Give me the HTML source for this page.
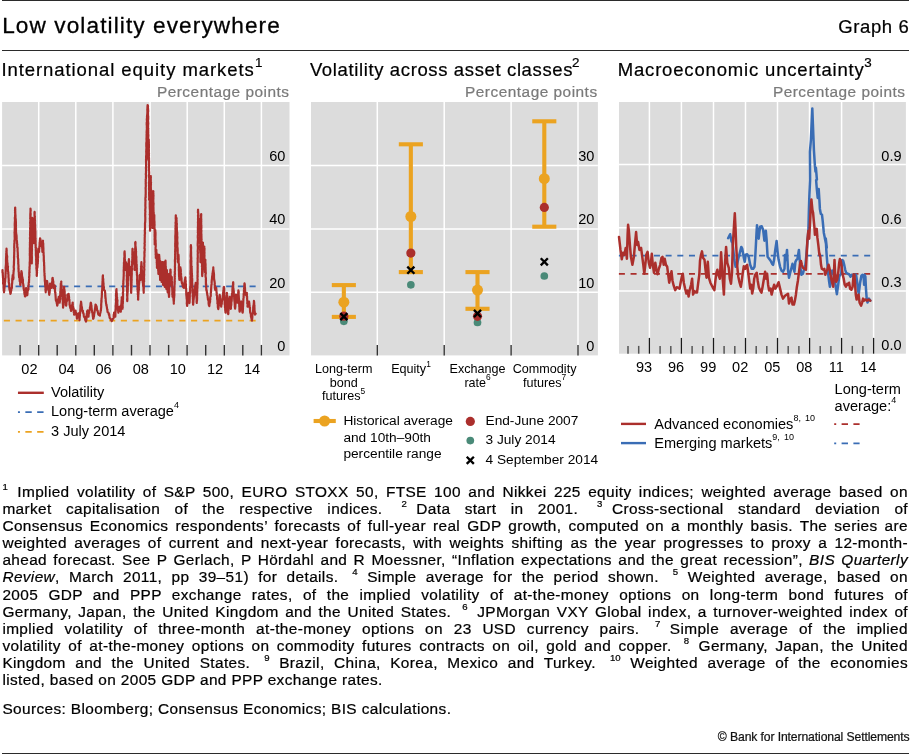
<!DOCTYPE html>
<html lang="en"><head><meta charset="utf-8"><title>Low volatility everywhere</title>
<style>
html,body{margin:0;padding:0;background:#fff}
body{width:910px;height:754px;position:relative;overflow:hidden;font-family:"Liberation Sans",sans-serif;color:#000}
.rule{position:absolute;left:2px;width:906.7px;height:1.3px;background:#2b2b2b}
.t{position:absolute;white-space:nowrap;-webkit-text-stroke:0.22px currentColor}
.f{position:absolute;left:2.4px;width:905.6px;font-size:15.4px;line-height:18px;white-space:nowrap;word-spacing:0;-webkit-text-stroke:0.22px #000}
.f .fs{font-size:9.6px;position:relative;top:-6.4px;letter-spacing:0}
.g4{display:inline-block;width:4.6px}
.g9{display:inline-block;width:9.6px}
svg{position:absolute;left:0;top:0}
svg text{font-family:"Liberation Sans",sans-serif}
#w{position:absolute;left:0;top:0;width:910px;height:754px}
#tx{position:absolute;left:0;top:0;width:910px;height:754px;filter:grayscale(1)}
</style></head><body><div id="w">
<div class="rule" style="top:-0.2px"></div>
<div class="rule" style="top:50.1px"></div>
<div class="rule" style="top:752.8px"></div>
<svg width="910" height="754" viewBox="0 0 910 754">
<rect x="2.1" y="102.0" width="287.4" height="253.4" fill="#dcdcdc"/>
<rect x="311.0" y="102.0" width="286.9" height="253.4" fill="#dcdcdc"/>
<rect x="619.0" y="102.0" width="286.9" height="251.7" fill="#dcdcdc"/>
<line x1="2.1" x2="289.5" y1="165.6" y2="165.6" stroke="#fff" stroke-width="1.5"/>
<line x1="2.1" x2="289.5" y1="228.9" y2="228.9" stroke="#fff" stroke-width="1.5"/>
<line x1="2.1" x2="289.5" y1="292.3" y2="292.3" stroke="#fff" stroke-width="1.5"/>
<line x1="311.0" x2="597.9" y1="165.6" y2="165.6" stroke="#fff" stroke-width="1.5"/>
<line x1="311.0" x2="597.9" y1="228.9" y2="228.9" stroke="#fff" stroke-width="1.5"/>
<line x1="311.0" x2="597.9" y1="292.3" y2="292.3" stroke="#fff" stroke-width="1.5"/>
<line x1="619.0" x2="905.9" y1="164.6" y2="164.6" stroke="#fff" stroke-width="1.5"/>
<line x1="619.0" x2="905.9" y1="227.8" y2="227.8" stroke="#fff" stroke-width="1.5"/>
<line x1="619.0" x2="905.9" y1="291.1" y2="291.1" stroke="#fff" stroke-width="1.5"/>
<line x1="38.7" x2="38.7" y1="102.0" y2="355.45" stroke="#fff" stroke-width="1.5"/>
<line x1="75.8" x2="75.8" y1="102.0" y2="355.45" stroke="#fff" stroke-width="1.5"/>
<line x1="112.9" x2="112.9" y1="102.0" y2="355.45" stroke="#fff" stroke-width="1.5"/>
<line x1="150.1" x2="150.1" y1="102.0" y2="355.45" stroke="#fff" stroke-width="1.5"/>
<line x1="187.2" x2="187.2" y1="102.0" y2="355.45" stroke="#fff" stroke-width="1.5"/>
<line x1="224.3" x2="224.3" y1="102.0" y2="355.45" stroke="#fff" stroke-width="1.5"/>
<line x1="261.4" x2="261.4" y1="102.0" y2="355.45" stroke="#fff" stroke-width="1.5"/>
<line x1="377.3" x2="377.3" y1="102.0" y2="355.45" stroke="#fff" stroke-width="1.5"/>
<line x1="444.2" x2="444.2" y1="102.0" y2="355.45" stroke="#fff" stroke-width="1.5"/>
<line x1="511.1" x2="511.1" y1="102.0" y2="355.45" stroke="#fff" stroke-width="1.5"/>
<line x1="578.0" x2="578.0" y1="102.0" y2="355.45" stroke="#fff" stroke-width="1.5"/>
<line x1="649.4" x2="649.4" y1="102.0" y2="353.7" stroke="#fff" stroke-width="1.5"/>
<line x1="681.4" x2="681.4" y1="102.0" y2="353.7" stroke="#fff" stroke-width="1.5"/>
<line x1="713.5" x2="713.5" y1="102.0" y2="353.7" stroke="#fff" stroke-width="1.5"/>
<line x1="745.5" x2="745.5" y1="102.0" y2="353.7" stroke="#fff" stroke-width="1.5"/>
<line x1="777.5" x2="777.5" y1="102.0" y2="353.7" stroke="#fff" stroke-width="1.5"/>
<line x1="809.5" x2="809.5" y1="102.0" y2="353.7" stroke="#fff" stroke-width="1.5"/>
<line x1="841.6" x2="841.6" y1="102.0" y2="353.7" stroke="#fff" stroke-width="1.5"/>
<line x1="873.6" x2="873.6" y1="102.0" y2="353.7" stroke="#fff" stroke-width="1.5"/>
<line x1="20.1" x2="20.1" y1="344.95" y2="355.45" stroke="#333" stroke-width="1.4"/>
<line x1="38.7" x2="38.7" y1="344.95" y2="355.45" stroke="#333" stroke-width="1.4"/>
<line x1="57.2" x2="57.2" y1="344.95" y2="355.45" stroke="#333" stroke-width="1.4"/>
<line x1="75.8" x2="75.8" y1="344.95" y2="355.45" stroke="#333" stroke-width="1.4"/>
<line x1="94.3" x2="94.3" y1="344.95" y2="355.45" stroke="#333" stroke-width="1.4"/>
<line x1="112.9" x2="112.9" y1="344.95" y2="355.45" stroke="#333" stroke-width="1.4"/>
<line x1="131.5" x2="131.5" y1="344.95" y2="355.45" stroke="#333" stroke-width="1.4"/>
<line x1="150.0" x2="150.0" y1="344.95" y2="355.45" stroke="#333" stroke-width="1.4"/>
<line x1="168.6" x2="168.6" y1="344.95" y2="355.45" stroke="#333" stroke-width="1.4"/>
<line x1="187.1" x2="187.1" y1="344.95" y2="355.45" stroke="#333" stroke-width="1.4"/>
<line x1="205.7" x2="205.7" y1="344.95" y2="355.45" stroke="#333" stroke-width="1.4"/>
<line x1="224.3" x2="224.3" y1="344.95" y2="355.45" stroke="#333" stroke-width="1.4"/>
<line x1="242.8" x2="242.8" y1="344.95" y2="355.45" stroke="#333" stroke-width="1.4"/>
<line x1="261.4" x2="261.4" y1="344.95" y2="355.45" stroke="#333" stroke-width="1.4"/>
<line x1="377.3" x2="377.3" y1="344.95" y2="355.45" stroke="#333" stroke-width="1.4"/>
<line x1="444.2" x2="444.2" y1="344.95" y2="355.45" stroke="#333" stroke-width="1.4"/>
<line x1="511.1" x2="511.1" y1="344.95" y2="355.45" stroke="#333" stroke-width="1.4"/>
<line x1="578.0" x2="578.0" y1="344.95" y2="355.45" stroke="#333" stroke-width="1.4"/>
<line x1="628.0" x2="628.0" y1="345.9" y2="353.7" stroke="#555" stroke-width="1.5"/>
<line x1="638.7" x2="638.7" y1="345.9" y2="353.7" stroke="#555" stroke-width="1.5"/>
<line x1="649.4" x2="649.4" y1="337.9" y2="353.7" stroke="#1a1a1a" stroke-width="1.3"/>
<line x1="660.1" x2="660.1" y1="345.9" y2="353.7" stroke="#555" stroke-width="1.5"/>
<line x1="670.8" x2="670.8" y1="345.9" y2="353.7" stroke="#555" stroke-width="1.5"/>
<line x1="681.4" x2="681.4" y1="337.9" y2="353.7" stroke="#1a1a1a" stroke-width="1.3"/>
<line x1="692.1" x2="692.1" y1="345.9" y2="353.7" stroke="#555" stroke-width="1.5"/>
<line x1="702.8" x2="702.8" y1="345.9" y2="353.7" stroke="#555" stroke-width="1.5"/>
<line x1="713.5" x2="713.5" y1="337.9" y2="353.7" stroke="#1a1a1a" stroke-width="1.3"/>
<line x1="724.1" x2="724.1" y1="345.9" y2="353.7" stroke="#555" stroke-width="1.5"/>
<line x1="734.8" x2="734.8" y1="345.9" y2="353.7" stroke="#555" stroke-width="1.5"/>
<line x1="745.5" x2="745.5" y1="337.9" y2="353.7" stroke="#1a1a1a" stroke-width="1.3"/>
<line x1="756.2" x2="756.2" y1="345.9" y2="353.7" stroke="#555" stroke-width="1.5"/>
<line x1="766.8" x2="766.8" y1="345.9" y2="353.7" stroke="#555" stroke-width="1.5"/>
<line x1="777.5" x2="777.5" y1="337.9" y2="353.7" stroke="#1a1a1a" stroke-width="1.3"/>
<line x1="788.2" x2="788.2" y1="345.9" y2="353.7" stroke="#555" stroke-width="1.5"/>
<line x1="798.9" x2="798.9" y1="345.9" y2="353.7" stroke="#555" stroke-width="1.5"/>
<line x1="809.6" x2="809.6" y1="337.9" y2="353.7" stroke="#1a1a1a" stroke-width="1.3"/>
<line x1="820.2" x2="820.2" y1="345.9" y2="353.7" stroke="#555" stroke-width="1.5"/>
<line x1="830.9" x2="830.9" y1="345.9" y2="353.7" stroke="#555" stroke-width="1.5"/>
<line x1="841.6" x2="841.6" y1="337.9" y2="353.7" stroke="#1a1a1a" stroke-width="1.3"/>
<line x1="852.3" x2="852.3" y1="345.9" y2="353.7" stroke="#555" stroke-width="1.5"/>
<line x1="862.9" x2="862.9" y1="345.9" y2="353.7" stroke="#555" stroke-width="1.5"/>
<line x1="873.6" x2="873.6" y1="337.9" y2="353.7" stroke="#1a1a1a" stroke-width="1.3"/>
<line x1="2.1" x2="255.8" y1="286.4" y2="286.4" stroke="#3a6db5" stroke-width="1.75" stroke-dasharray="6.1 5.6" stroke-dashoffset="9.95"/>
<line x1="2.1" x2="255.8" y1="320.6" y2="320.6" stroke="#eba321" stroke-width="1.75" stroke-dasharray="6.1 5.6" stroke-dashoffset="9.95"/>
<polyline points="2.5,270.0 2.5,270.5 2.5,272.4 2.7,273.1 2.8,272.7 2.8,273.7 2.8,274.8 3.0,276.8 2.9,276.9 3.2,279.4 3.1,280.2 3.2,281.0 3.1,283.4 3.3,284.1 3.3,283.1 3.6,284.6 3.6,285.2 3.6,287.6 3.6,288.3 3.7,287.9 3.8,290.8 4.0,290.7 4.0,292.3 4.0,291.1 4.3,291.1 4.3,288.4 4.5,288.2 4.4,287.8 4.5,287.5 4.8,284.8 4.8,284.0 4.9,282.0 5.0,280.7 5.1,281.8 5.1,281.1 5.2,279.6 5.3,278.2 5.5,278.0 5.5,275.9 5.5,275.0 5.6,272.7 5.7,273.4 5.6,272.9 5.7,270.7 5.7,268.6 5.6,268.0 5.8,266.7 5.7,265.9 6.0,265.7 5.9,263.8 6.0,264.1 6.1,263.9 6.0,262.0 6.0,260.3 6.2,259.5 6.0,260.3 6.1,257.0 6.2,256.1 6.2,256.1 6.2,253.4 6.3,253.4 6.4,254.1 6.4,251.8 6.3,251.3 6.5,250.9 6.5,248.7 6.7,250.8 6.6,250.4 6.7,250.6 6.6,251.5 6.7,253.0 6.7,254.4 6.8,254.4 7.0,255.8 7.2,256.6 7.0,259.3 7.2,260.0 7.2,260.3 7.2,261.6 7.6,264.0 7.5,263.9 7.5,263.8 7.6,265.5 7.7,268.0 8.0,266.6 7.8,269.1 8.0,270.0 7.9,271.1 8.3,272.1 8.3,274.1 8.2,273.3 8.4,274.0 8.5,276.1 8.4,276.5 8.7,278.9 8.7,280.0 8.8,280.9 8.8,280.2 8.7,281.6 8.9,283.0 8.9,282.6 9.2,284.3 9.2,287.3 9.4,288.3 9.4,289.3 9.4,288.2 9.6,290.0 9.8,290.4 10.3,292.9 10.4,293.8 10.7,293.4 11.0,291.0 11.3,290.4 11.5,287.7 11.7,287.8 11.9,287.9 11.9,286.4 12.0,283.7 12.1,283.0 12.1,283.8 12.3,281.1 12.2,281.0 12.3,278.2 12.5,279.4 12.6,276.1 12.7,277.5 12.7,275.0 12.9,275.6 12.9,275.9 13.2,279.4 13.3,279.0 13.5,278.1 13.5,276.8 13.3,276.9 13.4,274.3 13.5,273.2 13.5,272.3 13.7,270.9 13.6,270.6 13.8,270.2 13.9,268.8 13.8,268.0 13.7,267.1 13.8,265.8 13.9,265.0 14.0,262.6 13.9,262.0 14.0,262.7 14.0,260.5 14.1,260.2 14.1,257.9 14.0,257.3 14.1,257.8 14.2,256.2 14.1,256.2 14.2,254.3 14.2,253.0 14.2,251.9 14.4,250.9 14.4,250.6 14.2,250.3 14.4,248.2 14.2,248.0 14.3,244.9 14.3,243.8 14.5,242.8 14.5,243.8 14.5,241.0 14.4,241.5 14.5,240.0 14.7,240.1 14.7,237.2 14.6,236.7 14.7,237.4 14.6,234.0 14.6,234.0 14.6,232.1 14.5,232.6 14.7,231.1 14.7,228.6 14.7,229.3 14.9,226.7 14.9,227.8 14.7,224.8 14.9,223.6 14.7,223.3 15.0,222.7 14.8,222.9 15.0,219.9 15.0,220.1 14.8,217.7 15.0,218.5 15.1,215.7 15.1,216.3 15.2,213.7 15.2,212.7 15.0,212.8 15.2,212.1 15.0,210.2 15.1,210.0 15.1,207.8 15.2,207.9 15.2,207.6 15.2,209.4 15.3,211.7 15.3,211.9 15.3,212.5 15.3,213.2 15.5,215.6 15.5,215.1 15.5,218.2 15.6,218.9 15.8,219.0 15.7,219.7 15.9,221.5 15.8,222.0 15.9,222.5 15.9,224.6 15.8,224.7 15.8,224.7 16.0,225.8 15.8,227.3 16.0,227.8 16.0,231.1 15.9,230.4 16.0,231.4 16.0,232.0 16.2,233.3 16.1,236.4 16.2,235.3 16.0,236.4 16.1,238.0 16.2,235.6 16.3,235.9 16.4,235.0 16.5,235.1 16.5,235.6 16.6,236.8 16.6,237.7 16.7,239.4 16.9,241.0 17.0,242.2 17.1,243.7 17.3,244.6 17.2,244.7 17.2,247.4 17.4,247.0 17.5,248.7 17.6,247.7 17.6,251.1 17.7,251.7 17.6,251.0 17.8,253.0 17.8,254.9 17.9,255.2 17.9,256.5 17.7,256.2 17.9,258.0 17.9,258.0 18.2,259.1 18.2,261.5 18.3,262.8 18.2,263.5 18.4,264.6 18.5,266.5 18.5,266.7 18.4,268.2 18.5,269.4 18.6,268.6 18.6,271.5 18.9,272.6 18.8,272.9 18.9,273.9 18.9,275.0 19.1,276.8 19.1,277.4 19.4,277.0 19.6,279.0 19.7,280.7 19.7,281.2 19.9,280.7 20.2,283.5 20.2,284.5 20.4,285.0 20.5,284.0 20.4,282.9 20.5,283.1 20.8,282.4 20.7,278.6 20.9,279.9 20.8,277.9 20.9,277.0 21.1,275.2 21.1,274.2 21.2,273.0 21.1,274.3 21.3,272.9 21.4,271.0 21.6,273.1 21.8,272.2 21.6,274.0 21.9,273.6 22.0,276.0 22.1,276.9 22.3,277.0 22.6,278.5 22.7,280.0 22.9,279.6 22.9,283.0 23.2,284.2 23.3,284.0 23.3,286.2 23.5,285.6 23.6,288.4 23.7,287.6 23.7,288.3 23.9,290.0 24.2,289.9 24.4,291.5 24.3,292.4 24.5,294.2 24.9,294.9 24.9,296.3 25.1,296.4 25.3,294.6 25.3,294.4 25.2,292.7 25.5,291.0 25.7,290.7 25.9,289.7 26.1,288.0 26.1,288.4 26.3,291.2 26.5,290.9 26.7,292.0 27.0,292.4 27.0,295.4 27.3,295.0 27.4,294.5 27.5,293.2 27.6,291.0 28.0,290.2 28.0,290.0 28.1,289.0 28.5,289.2 28.4,286.9 28.5,285.1 28.8,285.0 28.7,283.5 28.8,282.2 29.1,282.2 29.0,281.7 29.1,279.8 29.1,278.6 29.1,276.7 29.1,278.4 29.3,276.0 29.4,275.0 29.3,275.1 29.3,272.3 29.4,271.7 29.6,272.3 29.4,271.1 29.6,267.6 29.6,269.1 29.5,267.3 29.8,265.7 29.8,265.9 29.7,265.4 29.7,261.9 29.8,262.0 29.9,261.1 29.9,261.3 29.9,259.4 29.9,257.9 29.9,255.7 30.0,255.2 29.8,255.4 29.8,252.9 30.0,253.4 29.8,250.9 29.9,251.1 29.9,249.7 29.8,249.3 29.9,247.4 30.0,248.3 30.0,247.1 29.9,244.2 30.1,245.3 29.9,242.4 30.1,242.0 30.0,240.8 30.2,240.5 29.9,238.2 30.0,237.5 30.0,237.5 30.2,236.9 30.1,235.0 30.0,234.0 30.1,234.4 30.1,232.9 30.2,230.2 30.3,229.4 30.1,229.0 30.2,227.2 30.4,227.4 30.2,224.9 30.4,224.1 30.1,222.9 30.3,221.7 30.4,223.1 30.5,221.6 30.3,221.2 30.5,218.0 30.2,218.6 30.3,217.4 30.3,215.6 30.3,214.0 30.4,213.3 30.3,214.2 30.4,213.3 30.6,210.5 30.5,210.8 30.5,208.9 30.5,208.6 30.7,210.5 30.5,211.0 30.4,214.1 30.7,213.7 30.5,215.7 30.5,214.6 30.6,218.1 30.8,218.6 30.7,218.5 30.8,221.3 30.8,220.2 30.7,221.4 30.9,221.5 30.9,225.2 30.7,226.2 30.9,225.2 31.0,228.3 30.9,227.6 30.9,228.8 30.9,231.2 31.1,231.8 31.1,232.9 31.0,233.3 31.0,233.5 31.0,235.8 31.2,235.1 31.0,236.3 31.2,236.6 31.3,238.5 31.2,240.0 31.4,242.1 31.1,241.3 31.3,241.8 31.3,244.6 31.3,244.2 31.4,246.3 31.5,247.7 31.3,248.5 31.4,250.0 31.4,250.2 31.4,251.7 31.4,251.3 31.7,252.0 31.5,254.2 31.7,254.7 31.5,256.0 31.7,257.9 31.6,259.4 31.8,258.9 31.8,261.0 31.7,259.7 31.7,260.9 31.8,263.0 31.8,263.4 31.8,262.2 31.8,261.1 31.9,258.3 31.7,259.3 31.9,257.3 31.8,255.2 31.8,253.9 31.9,253.3 31.8,253.4 31.9,250.6 31.8,251.5 31.9,249.4 32.0,249.8 31.8,246.7 32.0,246.7 31.9,246.4 32.1,244.0 31.9,243.7 32.2,242.4 32.1,241.4 32.0,240.5 32.2,241.0 32.0,238.6 32.0,238.6 32.2,235.5 32.2,235.7 32.2,234.7 32.0,233.8 32.1,231.5 32.3,232.3 32.2,229.7 32.2,229.6 32.1,227.9 32.3,228.0 32.2,225.8 32.4,226.8 32.1,224.0 32.4,225.2 32.1,222.9 32.2,223.1 32.3,222.1 32.2,220.8 32.2,219.7 32.3,217.9 32.5,218.6 32.4,220.9 32.5,220.1 32.6,222.0 32.7,221.9 32.9,224.6 32.9,223.7 33.0,226.0 32.9,227.7 33.0,229.0 33.2,229.3 33.1,230.4 33.3,230.8 33.3,231.8 33.3,232.8 33.4,232.6 33.3,235.0 33.6,236.8 33.4,236.9 33.4,237.9 33.6,237.9 33.6,238.8 33.6,241.0 33.6,242.4 33.8,243.0 33.9,242.7 33.7,241.0 33.8,240.0 33.8,240.3 34.1,239.0 34.0,237.7 34.1,235.1 34.1,235.0 33.9,235.2 34.2,233.8 34.0,230.7 34.0,231.7 34.1,231.1 34.1,229.9 34.3,228.0 34.1,226.1 34.2,226.0 34.2,223.6 34.4,223.0 34.4,223.5 34.4,221.0 34.4,219.8 34.4,220.3 34.4,220.0 34.6,218.2 34.6,215.8 34.5,216.3 34.5,215.8 34.6,215.3 34.7,212.5 34.6,211.9 34.5,212.7 34.5,214.6 34.6,215.8 34.9,216.3 34.8,217.2 34.7,217.4 34.8,217.6 34.9,220.3 35.1,221.0 34.9,220.9 34.9,223.4 35.0,222.5 35.0,223.8 35.2,225.2 35.1,227.3 35.2,228.0 35.2,229.4 35.4,228.9 35.2,230.3 35.4,230.8 35.4,234.1 35.3,233.7 35.4,233.6 35.4,236.2 35.4,237.4 35.5,239.3 35.6,238.3 35.5,238.7 35.5,240.7 35.7,240.7 35.6,241.6 35.5,245.3 35.7,244.1 35.7,246.0 35.6,247.9 35.7,247.4 35.9,247.7 35.8,250.0 35.9,251.8 36.0,250.6 35.9,253.7 35.9,254.7 35.9,254.2 35.9,255.2 36.1,256.5 36.2,258.5 36.1,259.6 36.2,260.1 36.2,261.8 36.3,261.3 36.2,264.3 36.2,265.0 36.3,264.2 36.5,266.6 36.4,267.6 36.4,269.0 36.7,268.2 36.6,270.3 36.8,271.4 36.7,271.8 36.8,273.5 36.8,273.7 36.7,275.1 36.8,275.9 36.9,273.9 37.1,272.4 36.9,271.5 37.2,270.2 37.0,269.8 37.1,267.8 37.3,268.0 37.4,267.6 37.5,266.6 37.6,263.7 37.7,263.6 37.8,263.9 37.8,262.0 37.9,259.7 38.0,261.2 37.8,257.8 37.8,256.8 38.1,257.9 38.1,256.3 38.0,255.2 38.0,252.7 38.1,253.5 38.2,251.2 38.2,249.4 38.3,249.1 38.3,248.7 38.5,249.4 38.8,252.2 39.0,252.0 39.1,252.0 39.1,248.5 39.3,248.7 39.4,247.3 39.3,246.8 39.4,246.7 39.5,245.6 39.6,242.1 39.9,243.3 39.8,240.0 40.0,240.4 40.0,238.4 40.1,238.3 40.3,239.0 40.5,239.8 40.4,241.0 40.6,243.3 40.7,242.7 40.9,243.7 40.9,246.0 41.2,245.5 41.3,244.2 41.5,242.5 41.8,241.7 41.7,243.9 41.8,244.9 41.9,243.9 42.0,247.0 42.2,246.5 42.1,247.1 42.3,249.0 42.3,250.7 42.3,250.5 42.4,252.0 42.6,250.0 42.6,250.4 42.5,248.0 42.6,248.7 42.7,245.8 42.6,247.0 42.7,243.9 42.9,244.4 42.8,241.8 42.9,241.0 43.0,240.7 42.9,241.8 43.0,242.3 43.2,245.2 43.3,243.7 43.2,244.7 43.4,248.3 43.3,248.6 43.4,248.1 43.4,250.0 43.4,249.9 43.4,251.7 43.6,252.7 43.6,254.6 43.6,255.4 43.7,255.0 43.8,256.7 43.8,258.0 43.8,260.2 44.0,260.2 43.8,260.8 44.1,262.6 44.1,263.8 44.1,265.0 44.1,265.4 44.2,265.5 44.2,265.8 44.3,268.8 44.2,269.4 44.3,270.0 44.3,270.8 44.4,272.4 44.6,273.5 44.5,273.1 44.5,275.8 44.7,276.0 44.7,275.7 44.7,278.0 44.8,278.0 44.8,281.3 44.9,279.8 45.0,282.1 45.1,283.0 45.1,285.0 45.3,284.7 45.2,286.0 45.3,286.2 45.5,287.8 45.6,288.1 45.4,289.8 45.6,290.6 45.7,292.3 45.8,289.8 46.0,290.0 45.9,288.7 46.2,287.3 46.2,288.4 46.4,285.2 46.3,284.7 46.6,282.9 46.6,283.8 46.7,281.8 46.7,280.9 47.1,281.1 47.3,282.4 47.6,284.8 47.7,284.8 47.8,285.7 47.9,287.0 48.1,288.8 48.3,289.8 48.4,289.4 48.5,290.6 48.8,290.4 48.8,292.2 49.1,293.2 49.2,294.8 49.4,293.6 49.4,293.3 49.6,293.0 49.7,289.5 49.8,291.0 49.9,287.8 49.7,288.2 50.1,285.4 50.0,286.3 50.0,283.7 50.2,283.8 50.6,284.1 50.6,285.4 51.1,288.0 51.2,287.8 51.5,285.9 51.6,286.1 51.8,285.3 51.9,284.7 52.0,282.0 52.2,281.9 52.4,280.7 52.3,280.0 52.4,278.1 52.7,277.9 52.7,278.8 52.8,279.8 53.0,280.8 53.2,282.0 53.3,281.4 53.3,283.7 53.5,285.3 53.5,285.5 53.5,288.2 53.7,287.8 54.2,287.2 54.7,285.8 54.8,285.5 55.0,288.3 55.1,288.3 55.0,289.8 55.0,292.0 55.2,292.4 55.4,292.3 55.3,293.4 55.5,294.9 55.5,294.9 55.6,296.5 55.7,297.8 55.8,299.7 56.0,300.7 56.2,300.8 56.6,301.8 56.7,303.2 56.8,303.2 57.0,304.1 57.2,305.7 57.4,305.1 57.6,302.4 57.7,303.9 57.8,300.4 57.9,299.3 58.2,301.0 58.4,299.2 58.5,298.9 58.7,296.8 58.9,298.1 59.0,299.3 59.1,300.3 59.3,301.2 59.4,302.5 59.7,302.7 59.6,300.8 59.9,301.5 59.8,300.2 60.0,299.7 59.9,297.9 60.1,296.2 60.1,295.2 60.4,295.2 60.3,292.5 60.3,291.5 60.5,292.7 60.5,292.0 60.6,288.4 60.8,289.1 60.7,289.2 60.7,286.6 60.8,286.2 60.8,283.8 61.1,282.4 61.2,281.7 61.2,281.8 61.3,281.6 61.2,282.8 61.3,285.5 61.4,286.5 61.6,285.5 61.7,288.4 61.6,289.5 61.8,290.2 62.0,290.7 62.1,291.1 61.9,293.4 62.1,292.4 62.2,294.8 62.1,296.7 62.4,296.2 62.5,296.8 62.3,298.7 62.6,299.4 62.7,300.6 62.8,300.7 62.8,302.3 62.8,304.1 63.0,304.4 63.1,307.0 63.0,306.9 63.1,307.7 63.3,305.4 63.3,306.3 63.3,304.2 63.4,305.1 63.3,303.0 63.5,301.5 63.5,300.4 63.6,300.0 63.5,299.6 63.5,296.3 63.7,296.5 63.8,296.7 63.9,293.4 63.9,294.7 63.8,293.0 64.0,292.8 64.1,291.3 63.9,289.4 64.1,289.0 64.2,286.9 64.1,286.8 64.1,289.1 64.3,289.1 64.3,289.7 64.5,290.1 64.5,292.6 64.7,291.6 64.6,294.6 64.9,295.0 64.8,296.9 64.9,296.7 64.9,296.9 65.1,297.8 65.1,299.7 65.3,300.3 65.5,301.5 65.5,301.7 65.8,305.2 66.0,303.6 66.1,305.7 66.2,305.6 66.4,304.0 66.4,302.8 66.8,300.4 66.8,301.8 66.9,299.9 67.1,299.6 67.3,299.1 67.5,297.7 67.3,295.1 67.6,294.8 68.6,293.8 68.6,293.9 68.7,294.6 69.0,296.9 69.1,297.6 68.9,299.9 69.1,300.0 69.4,299.6 69.4,301.0 69.6,303.1 69.5,304.2 69.6,304.7 69.8,305.6 70.3,308.1 70.2,306.9 70.6,308.0 71.0,310.9 71.1,310.7 71.2,310.7 71.5,309.5 71.8,308.1 71.7,305.4 72.2,306.5 72.2,305.2 72.5,304.0 72.6,302.7 72.7,302.6 72.7,304.0 72.9,305.7 73.0,306.0 73.1,308.2 73.2,309.3 73.6,308.3 73.7,309.9 73.8,312.7 73.8,311.6 74.1,312.5 74.1,314.7 74.5,314.7 74.8,312.5 75.2,312.6 75.6,310.7 75.7,312.1 75.8,311.9 76.2,314.3 76.4,313.6 76.5,315.0 76.6,315.7 76.8,318.6 77.1,318.6 77.4,316.7 77.8,316.1 78.1,314.5 78.4,313.4 78.6,313.7 78.6,315.2 78.8,315.6 79.0,316.0 79.4,317.3 79.5,320.1 79.6,319.6 79.6,317.5 79.6,318.8 79.7,317.3 79.7,317.0 79.9,315.6 79.9,312.6 80.1,313.6 80.2,310.8 80.2,311.9 80.3,309.9 80.5,307.8 80.5,308.3 80.5,305.5 80.7,306.0 80.7,304.1 80.9,304.1 81.0,303.6 81.0,301.7 81.1,301.9 81.4,304.4 81.4,305.4 81.7,306.6 82.0,307.7 81.9,307.7 82.2,309.9 82.3,310.8 82.5,310.7 82.9,310.8 82.9,312.3 83.3,313.3 83.5,313.2 83.8,315.5 84.0,316.7 84.6,316.5 85.0,318.6 85.4,320.6 85.7,320.1 86.0,321.6 86.2,320.3 86.4,318.4 86.4,320.0 86.5,317.7 86.5,316.8 86.7,317.0 86.8,313.7 87.2,312.9 87.1,311.3 87.3,312.3 87.5,310.7 87.7,310.3 87.8,312.9 87.9,314.3 88.2,315.7 88.2,314.3 88.5,316.7 88.6,315.6 88.7,314.0 88.9,313.4 89.3,312.9 89.3,310.7 89.5,310.7 89.5,310.4 89.9,309.6 89.9,307.4 90.1,307.7 90.4,305.4 90.4,305.5 90.6,303.0 90.8,302.7 91.1,303.5 91.2,305.6 91.3,306.6 91.4,305.4 91.6,309.0 91.6,308.0 91.8,310.1 92.0,310.7 92.0,311.8 92.3,312.5 92.4,312.3 92.8,316.0 92.9,316.9 93.2,317.6 93.1,318.8 93.5,318.6 93.5,318.1 93.7,317.2 94.1,315.8 94.0,315.0 94.3,313.7 94.4,312.7 94.5,313.0 94.8,310.1 95.0,308.6 95.1,310.0 95.2,307.0 95.3,306.8 95.5,304.6 95.7,304.7 96.0,305.1 96.3,306.1 96.6,306.5 96.9,308.7 97.2,310.7 97.5,310.9 97.7,310.8 97.9,312.6 98.2,314.0 98.4,314.7 99.9,315.7 100.0,314.1 100.3,312.9 100.5,312.3 100.7,310.3 100.9,310.7 100.9,310.7 101.0,308.9 101.2,307.1 101.2,306.1 101.1,304.7 101.2,305.8 101.3,302.5 101.4,302.6 101.3,300.6 101.5,302.1 101.5,298.7 101.6,298.3 101.7,298.1 101.7,297.7 101.8,296.5 101.8,295.5 101.9,294.6 101.9,292.8 101.9,293.0 101.9,291.8 102.1,290.5 102.3,288.7 102.2,287.9 102.4,287.5 102.3,285.9 102.4,284.5 102.4,284.2 102.5,282.2 102.5,281.2 102.7,281.3 102.6,279.5 102.7,277.5 102.8,276.4 102.7,276.6 102.9,275.4 102.9,277.6 103.1,278.4 103.0,279.8 103.3,279.3 103.1,279.1 103.3,281.8 103.5,283.8 103.6,283.7 103.5,284.7 103.6,286.2 103.7,286.3 103.9,287.3 103.8,289.3 103.9,289.8 104.9,290.8 104.9,290.6 105.1,292.5 105.3,294.0 105.2,296.1 105.4,295.6 105.4,298.2 105.6,297.8 105.6,297.8 105.8,301.1 105.7,300.8 105.9,301.7 106.1,303.9 106.4,304.7 106.4,305.8 106.5,304.7 106.7,306.7 106.8,306.8 107.1,309.1 107.4,309.3 107.4,310.7 107.6,312.1 108.2,312.4 108.6,313.1 108.9,314.7 109.2,314.2 109.6,317.6 109.9,318.1 110.4,318.6 111.1,319.9 111.8,321.1 112.6,319.2 113.3,318.6 113.7,317.7 113.6,316.9 113.7,314.6 113.9,315.4 114.1,312.5 114.3,312.7 114.7,313.7 114.9,315.0 114.9,314.4 115.3,316.7 115.3,316.4 115.4,315.3 115.4,312.7 115.6,311.4 115.5,311.8 115.5,310.4 115.7,308.3 115.8,308.8 115.7,307.4 115.6,305.8 115.9,306.8 115.9,304.0 115.8,304.4 116.0,302.8 116.1,301.4 115.9,299.7 115.9,300.1 116.2,297.9 116.2,297.4 116.0,295.7 116.1,295.0 116.2,295.7 116.1,293.5 116.3,292.4 116.2,291.1 116.5,289.2 116.4,289.3 116.4,289.9 116.5,290.5 116.5,291.6 116.7,293.9 116.8,293.5 116.8,294.3 116.8,297.5 117.1,297.4 116.9,299.5 117.2,299.2 117.3,300.3 117.4,300.9 117.3,302.7 117.3,303.7 117.4,304.6 117.5,306.3 117.7,307.9 117.7,307.3 117.8,309.0 117.9,310.8 118.1,310.7 118.3,311.0 118.3,312.7 118.6,311.3 118.7,310.9 118.8,309.4 119.3,307.8 119.4,307.2 119.6,306.7 119.9,306.6 120.1,308.3 120.2,309.1 120.5,310.1 120.8,311.7 120.9,309.6 120.9,309.1 121.1,309.9 121.2,308.8 121.1,305.6 121.3,304.4 121.3,305.2 121.4,303.5 121.4,303.3 121.5,302.7 121.5,301.1 121.8,298.6 121.8,299.4 121.8,297.8 121.7,297.4 121.8,298.8 122.0,300.2 122.0,300.4 122.1,303.1 122.2,304.7 122.2,305.3 122.4,305.5 122.3,306.3 122.6,308.7 122.6,308.7 122.5,307.1 122.7,307.7 122.6,304.4 122.8,303.6 122.9,302.9 122.6,303.5 122.8,302.3 122.9,301.5 122.7,299.1 122.9,300.0 123.0,299.0 123.0,297.5 123.0,296.1 123.1,293.5 123.0,293.6 122.9,294.0 122.9,292.6 123.2,291.4 123.2,289.1 123.2,290.2 123.1,287.9 123.2,285.5 123.2,285.6 123.3,284.8 123.2,283.3 123.4,283.4 123.3,281.1 123.4,280.9 123.4,281.1 123.6,278.3 123.6,276.9 123.7,276.4 123.7,276.0 123.7,274.0 123.7,274.2 123.8,273.7 123.7,270.8 123.7,270.5 123.8,268.7 123.9,268.1 123.8,267.8 123.9,266.5 123.9,265.6 124.0,265.0 123.9,262.7 124.2,264.4 124.2,260.7 124.2,262.3 124.2,258.7 124.2,258.6 124.2,257.9 124.4,258.0 124.5,256.1 124.4,255.1 124.4,252.9 124.6,251.3 124.6,251.6 124.6,253.6 124.7,252.7 124.8,255.7 124.8,254.7 124.8,257.7 124.7,257.2 124.8,259.7 124.9,259.4 125.0,260.4 124.8,261.1 125.0,263.0 125.1,264.8 125.2,266.1 125.1,265.9 125.0,265.9 125.0,268.2 125.1,269.5 125.2,270.0 125.4,268.8 125.2,266.8 125.3,266.8 125.4,266.6 125.7,266.0 125.6,264.8 125.8,262.4 125.8,262.0 126.2,263.0 126.6,264.0 126.6,264.5 126.7,266.5 126.6,268.1 126.7,267.4 126.6,269.1 126.6,269.1 126.7,270.4 126.9,273.3 126.9,274.0 126.8,275.3 126.7,275.8 126.9,276.4 126.9,276.3 126.9,279.2 126.8,279.3 127.0,279.4 126.8,279.5 126.9,282.4 127.0,281.6 127.0,283.5 127.0,284.6 127.0,286.0 126.9,285.7 127.1,288.9 127.2,287.7 127.0,289.1 127.0,290.9 127.1,291.7 127.2,292.0 127.2,292.6 127.1,295.0 127.1,295.5 127.3,296.6 127.3,297.9 127.1,299.5 127.3,301.1 127.3,300.7 127.4,298.5 127.3,298.3 127.4,298.9 127.3,297.4 127.3,296.3 127.5,293.7 127.6,292.0 127.5,291.6 127.6,292.0 127.7,291.5 127.7,290.4 127.8,289.5 127.8,286.3 127.9,285.8 127.9,285.7 127.8,283.0 128.0,283.8 127.8,282.7 127.8,281.3 128.0,280.0 128.1,279.2 128.2,276.9 128.1,277.5 128.2,275.1 128.2,276.0 128.1,272.9 128.4,271.9 128.4,271.2 128.4,270.5 128.3,269.7 128.5,270.2 128.6,268.7 128.4,268.4 128.5,265.7 128.8,265.1 128.5,265.0 128.8,262.2 128.7,262.7 128.7,261.1 128.8,261.2 128.9,259.2 129.0,261.3 128.9,260.1 129.2,261.5 128.9,263.7 129.1,263.5 129.2,265.4 129.2,266.2 129.3,266.2 129.2,268.2 129.5,269.6 129.3,269.5 129.4,272.3 129.5,272.2 129.6,273.3 129.6,275.0 129.8,274.1 129.7,274.4 130.0,272.2 130.1,272.1 130.2,270.4 130.2,268.6 130.5,268.9 130.5,267.0 130.6,269.3 130.6,268.4 130.6,270.7 130.6,271.4 130.6,272.1 130.6,271.7 130.8,273.4 130.7,274.9 130.7,275.2 130.7,276.5 130.9,276.5 130.8,278.8 130.8,280.1 130.7,279.9 130.8,281.3 130.9,283.5 130.9,285.1 131.0,286.1 130.9,284.6 131.2,287.1 131.1,287.4 131.2,288.6 131.1,288.6 131.1,292.0 131.0,291.1 131.2,292.8 131.2,290.8 131.2,291.4 131.2,289.5 131.4,289.1 131.3,288.3 131.5,287.5 131.3,286.2 131.6,285.8 131.4,283.4 131.5,282.0 131.6,283.0 131.5,282.1 131.7,279.4 131.6,279.4 131.6,278.4 131.7,275.7 131.8,274.6 131.7,274.5 131.7,274.2 131.7,272.9 131.9,273.2 131.7,272.4 131.9,270.0 132.0,269.3 131.8,267.5 131.9,266.0 131.9,266.8 132.0,266.0 132.1,264.2 132.2,263.2 132.1,262.4 132.1,261.8 132.3,260.7 132.2,259.9 132.4,258.9 132.3,257.0 132.5,256.2 132.3,254.1 132.5,254.1 132.4,254.0 132.4,253.6 132.4,251.9 132.5,248.8 132.6,249.2 132.7,249.0 132.6,251.5 132.7,253.7 132.7,252.4 133.0,255.2 132.8,254.6 132.9,257.5 133.1,259.1 133.1,259.2 133.2,260.7 133.4,260.4 133.3,262.0 133.4,259.8 133.5,258.6 133.6,258.5 133.6,256.5 133.8,256.5 133.7,257.0 133.7,253.8 133.8,252.9 133.9,252.5 133.9,252.8 134.0,255.3 134.2,255.0 134.1,255.8 134.2,256.7 134.1,259.7 134.3,260.4 134.2,260.1 134.4,261.7 134.4,261.8 134.3,264.1 134.5,265.1 134.6,265.0 134.6,266.5 134.4,269.0 134.7,270.0 134.6,270.0 134.5,268.4 134.8,266.8 134.8,265.5 134.8,264.9 134.6,263.7 134.7,264.4 134.9,262.4 135.0,262.4 134.7,262.2 135.0,259.0 134.8,259.3 134.9,257.7 134.9,256.5 135.2,254.2 135.2,254.1 135.1,252.5 135.1,251.5 135.2,250.6 135.2,249.5 135.1,249.5 135.2,248.0 135.2,248.6 135.4,245.6 135.4,246.5 135.2,243.7 135.2,242.6 135.4,242.3 135.5,242.0 135.5,244.1 135.4,245.1 135.7,247.1 135.7,247.7 135.9,249.2 135.9,250.8 135.8,250.4 136.1,251.6 136.0,252.5 136.0,253.6 136.0,256.4 136.2,256.0 136.4,257.3 136.3,257.3 136.3,258.6 136.3,259.1 136.5,262.0 136.3,263.2 136.4,263.6 136.6,264.4 136.7,264.5 136.7,264.6 136.7,268.0 136.9,268.3 136.8,268.2 136.8,270.0 136.8,271.7 136.8,272.6 137.0,273.1 136.9,274.5 137.0,275.4 137.1,275.2 137.2,276.3 137.2,277.9 137.2,279.1 137.1,279.2 137.2,282.2 137.3,282.1 137.2,283.9 137.5,283.0 137.4,285.0 137.5,285.9 137.6,288.0 137.4,289.2 137.7,288.9 137.6,291.2 137.7,290.3 137.8,291.2 137.9,294.3 137.8,294.3 138.1,295.2 138.0,297.1 138.2,297.5 138.0,299.4 138.2,299.7 138.2,299.2 138.2,297.7 138.3,296.2 138.3,295.2 138.5,293.6 138.4,292.1 138.5,293.0 138.6,290.8 138.6,291.2 138.9,289.6 138.8,287.3 138.9,287.9 138.8,285.7 139.0,285.0 139.0,283.8 139.1,283.6 139.3,281.7 139.3,281.9 139.4,279.7 139.4,280.2 139.6,279.4 139.7,276.6 139.6,275.5 139.8,275.0 139.9,276.7 140.1,277.1 140.4,279.2 140.5,277.6 140.6,280.0 140.6,278.9 140.7,278.9 140.9,276.8 140.8,275.7 140.9,274.9 141.0,274.3 140.8,272.5 141.0,272.3 141.1,271.5 141.0,268.6 141.2,267.5 141.0,266.5 141.2,267.4 141.3,264.3 141.3,265.2 141.4,262.2 141.4,262.5 141.5,263.3 141.6,266.0 141.5,266.7 141.7,266.2 141.9,266.3 141.7,268.1 141.8,269.2 142.0,271.9 142.0,271.9 142.0,271.6 142.2,275.0 142.2,275.0 142.2,277.0 142.3,276.1 142.5,278.1 142.6,278.9 142.7,280.2 142.7,281.9 142.9,283.2 143.0,283.0 143.0,282.8 143.1,285.3 143.2,286.5 143.4,286.7 143.5,287.8 143.5,290.4 143.7,290.5 143.7,291.6 143.7,292.8 143.7,290.5 143.6,291.2 143.6,290.9 143.7,289.1 143.8,289.1 143.8,287.7 143.9,286.4 143.8,284.3 143.8,284.9 143.8,284.1 143.8,280.7 144.1,281.7 144.0,279.7 144.1,278.2 143.9,278.5 144.1,275.7 144.2,274.6 144.0,274.4 144.1,274.2 144.0,273.1 144.1,273.2 144.1,272.0 144.2,270.0 144.4,269.9 144.1,267.7 144.3,266.7 144.3,265.2 144.3,263.8 144.3,264.7 144.2,263.5 144.2,263.0 144.5,262.2 144.4,261.3 144.3,258.4 144.4,258.7 144.3,258.2 144.5,256.0 144.5,255.3 144.4,252.8 144.6,252.3 144.4,253.0 144.4,252.2 144.7,250.3 144.7,248.5 144.4,248.5 144.6,246.5 144.7,245.3 144.7,244.1 144.5,243.4 144.5,243.2 144.8,242.1 144.7,241.3 144.7,240.0 144.7,237.6 144.8,236.8 144.8,235.9 144.8,235.6 144.7,235.5 145.0,233.0 145.0,232.5 144.9,233.1 144.8,230.0 144.8,231.1 145.0,229.0 145.0,226.9 145.0,226.0 145.0,226.0 145.0,224.1 145.0,223.1 145.2,222.2 145.2,222.0 145.3,219.6 145.3,220.0 145.3,219.2 145.3,217.2 145.2,216.0 145.2,214.6 145.3,215.0 145.3,214.1 145.2,214.1 145.3,212.2 145.4,211.3 145.2,210.6 145.4,208.3 145.3,209.4 145.5,207.3 145.4,206.9 145.4,205.9 145.3,205.2 145.4,204.3 145.4,201.7 145.6,200.3 145.4,200.5 145.4,198.5 145.5,197.1 145.7,196.5 145.7,197.4 145.6,194.9 145.7,194.8 145.7,193.7 145.7,191.1 145.7,192.0 145.7,188.8 145.6,188.6 145.7,189.4 145.6,187.7 145.8,187.0 145.8,186.2 145.8,185.0 145.7,183.3 145.9,182.9 145.7,182.1 145.8,180.0 145.8,180.3 145.7,179.3 145.9,178.4 146.0,175.3 145.8,174.2 145.8,173.9 146.0,173.0 146.0,172.5 146.0,170.7 146.0,170.9 146.1,170.3 145.9,167.7 146.1,167.4 146.1,165.5 146.1,166.0 146.1,162.6 146.0,161.6 146.1,162.9 146.1,161.3 146.0,159.5 146.3,158.6 146.1,158.3 146.1,155.8 146.2,156.6 146.3,155.5 146.3,152.9 146.3,151.7 146.2,151.1 146.2,152.3 146.3,150.0 146.4,148.2 146.5,148.3 146.4,146.7 146.4,147.3 146.3,146.4 146.3,145.0 146.3,143.1 146.6,141.1 146.6,140.9 146.5,139.3 146.5,137.8 146.5,139.1 146.7,136.6 146.6,137.1 146.6,133.8 146.8,133.8 146.7,132.6 146.6,132.4 146.7,131.1 146.7,131.2 146.9,128.6 146.8,126.7 146.8,127.5 146.9,125.8 146.9,126.1 146.7,124.7 146.7,122.5 147.0,123.3 146.9,120.0 146.9,120.0 146.8,119.2 147.1,117.7 147.0,117.4 147.0,116.8 147.1,115.1 147.2,115.4 147.3,113.9 147.4,111.7 147.4,111.6 147.3,109.4 147.5,109.2 147.4,108.9 147.5,106.0 147.5,107.1 147.6,105.0 148.0,106.0 147.9,107.7 147.9,107.5 148.0,108.4 148.2,111.4 148.0,110.1 148.0,113.3 148.0,112.5 148.0,112.9 148.0,114.7 148.0,117.3 148.2,116.1 148.2,117.9 148.2,119.4 148.0,119.5 148.1,121.7 148.2,122.2 148.1,123.7 148.3,123.6 148.1,125.1 148.1,126.4 148.0,127.8 148.2,128.9 148.3,128.6 148.1,129.3 148.2,129.8 148.2,132.7 148.3,132.7 148.1,132.9 148.4,135.4 148.3,136.4 148.2,137.8 148.3,139.3 148.2,138.5 148.2,140.9 148.4,140.1 148.3,142.1 148.4,143.5 148.2,142.9 148.3,143.7 148.4,146.0 148.3,147.5 148.3,147.7 148.4,148.3 148.4,150.8 148.4,150.0 148.3,152.7 148.5,154.2 148.5,154.7 148.5,155.4 148.4,154.9 148.4,157.6 148.3,157.3 148.5,159.3 148.4,160.0 148.3,158.3 148.3,157.2 148.6,157.5 148.4,156.9 148.4,155.6 148.5,155.0 148.6,151.6 148.5,151.0 148.6,149.7 148.7,150.2 148.7,147.7 148.6,146.9 148.6,147.4 148.7,145.5 148.8,144.2 148.8,143.2 148.8,143.9 148.8,140.6 148.8,139.6 148.8,140.0 148.7,140.8 148.9,142.4 148.8,143.2 148.9,144.0 148.9,144.2 148.9,147.4 148.8,148.3 148.7,149.4 148.8,148.9 148.9,149.9 148.9,151.6 148.8,151.5 148.8,152.7 149.0,153.1 148.9,155.0 149.0,155.1 148.8,156.1 149.0,158.2 149.0,160.4 149.1,161.3 149.0,161.6 148.9,160.7 149.1,161.6 149.0,164.6 148.9,164.3 149.0,165.0 148.9,168.4 148.9,166.7 149.1,168.6 149.0,170.9 148.9,169.8 149.1,171.0 149.2,172.9 149.1,175.2 149.1,174.9 148.9,174.9 149.0,177.2 149.0,177.2 149.2,177.6 149.2,180.6 149.1,182.4 149.0,182.7 149.2,183.9 148.9,182.9 149.1,184.2 149.0,185.6 149.2,188.0 149.0,187.9 149.1,190.1 149.1,188.8 149.3,191.4 149.2,192.0 149.1,192.1 149.1,195.2 149.2,193.9 149.1,194.9 149.2,196.9 149.2,198.4 149.1,198.8 149.2,200.0 149.1,199.7 149.2,197.9 149.3,197.5 149.3,195.2 149.3,195.6 149.4,193.0 149.2,193.3 149.5,191.2 149.3,190.2 149.5,190.8 149.5,189.4 149.3,186.7 149.6,188.4 149.3,184.7 149.6,184.2 149.6,183.2 149.6,184.2 149.5,183.2 149.4,180.0 149.6,180.0 149.5,181.7 149.7,183.4 149.7,182.1 149.6,183.0 149.7,183.8 149.8,187.1 149.8,185.5 149.8,188.1 149.7,189.0 149.8,190.2 149.6,189.7 149.6,192.1 149.6,192.6 149.6,194.6 149.8,195.9 149.6,195.8 149.6,197.3 149.6,197.7 149.8,200.3 149.6,199.5 149.9,201.5 149.7,202.9 149.7,202.5 149.7,204.6 149.9,205.2 149.7,206.6 149.7,205.6 149.8,208.4 149.8,208.9 149.9,209.6 150.0,211.2 149.9,212.5 150.0,214.0 149.7,214.4 150.0,215.3 150.0,215.6 150.0,215.9 150.0,217.6 149.8,218.1 149.9,219.3 149.9,219.6 150.0,223.1 150.0,224.0 150.1,224.7 149.9,225.5 149.9,225.0 149.9,225.3 150.1,228.8 150.1,228.2 150.1,230.5 150.0,230.7 150.0,230.6 150.1,227.6 150.1,227.2 150.1,226.4 150.0,227.1 150.1,224.8 150.2,223.9 150.2,222.5 150.3,222.3 150.0,219.6 150.3,219.2 150.1,217.4 150.3,218.5 150.2,215.9 150.3,216.4 150.3,215.6 150.1,213.1 150.3,211.5 150.2,211.0 150.3,212.2 150.3,210.2 150.3,209.2 150.2,207.4 150.2,205.7 150.2,205.5 150.3,203.8 150.4,205.3 150.4,202.3 150.3,201.0 150.4,200.4 150.4,200.0 150.4,199.5 150.3,198.7 150.4,198.3 150.3,197.0 150.4,196.0 150.6,195.0 150.4,193.5 150.4,190.6 150.4,192.2 150.6,190.5 150.5,189.5 150.5,187.0 150.6,188.4 150.7,186.4 150.5,184.2 150.8,182.6 150.8,181.9 150.8,181.6 150.8,180.0 150.7,179.3 150.6,179.1 150.9,177.3 150.7,176.4 150.8,176.0 150.7,177.8 150.7,177.1 150.8,178.7 150.8,180.4 150.7,182.1 151.0,182.5 150.7,182.2 150.8,183.8 151.0,184.9 150.8,184.8 150.8,186.9 150.9,187.2 150.8,187.9 151.0,189.6 151.0,192.3 150.9,190.8 151.0,193.7 151.2,195.1 150.9,196.0 151.1,197.3 151.0,196.2 151.0,199.1 151.0,197.8 151.1,201.2 151.0,201.7 151.1,201.9 151.2,202.1 151.0,203.6 151.2,206.4 151.0,205.1 151.2,207.4 151.2,206.6 151.2,209.7 151.2,209.2 151.3,211.3 151.4,211.0 151.3,214.3 151.2,215.0 151.3,215.0 151.2,215.2 151.4,212.2 151.2,213.2 151.3,210.2 151.3,209.8 151.5,208.1 151.6,208.2 151.6,206.7 151.7,204.6 151.5,204.2 151.7,204.0 151.7,203.0 151.5,202.4 151.6,202.0 151.7,201.4 151.8,198.2 151.7,197.5 151.8,196.5 151.7,194.6 151.8,195.0 151.9,195.0 151.9,195.6 151.8,197.3 151.9,199.2 151.8,198.9 152.0,199.9 151.8,201.0 151.9,203.1 151.8,205.1 151.9,204.2 152.0,206.2 152.1,206.7 152.1,208.5 151.9,210.3 152.0,211.3 152.2,209.7 151.9,210.9 152.0,212.4 152.2,215.4 152.1,214.8 152.2,217.0 152.1,217.4 152.1,216.9 152.2,219.5 152.3,220.9 152.1,222.3 152.3,220.8 152.1,223.2 152.2,224.6 152.2,224.2 152.3,226.1 152.4,225.8 152.3,228.0 152.3,227.4 152.4,226.5 152.3,223.6 152.4,224.5 152.3,223.4 152.5,223.3 152.4,220.2 152.4,221.3 152.6,218.7 152.4,219.2 152.5,217.7 152.6,216.5 152.4,213.9 152.5,213.2 152.5,211.7 152.6,211.7 152.6,209.8 152.6,211.3 152.7,208.6 152.6,207.8 152.5,206.9 152.6,206.5 152.8,204.6 152.8,204.8 152.8,203.4 152.9,202.6 152.9,200.1 152.8,200.0 152.8,198.3 153.0,198.8 153.1,197.8 153.0,195.9 153.1,193.2 153.1,194.1 153.1,191.1 153.3,191.3 153.4,191.3 153.2,191.8 153.4,193.6 153.2,196.7 153.5,195.1 153.3,198.6 153.4,197.8 153.4,198.7 153.3,200.2 153.3,199.9 153.3,201.2 153.5,203.6 153.6,203.5 153.4,205.8 153.4,206.2 153.5,208.4 153.4,206.9 153.5,209.7 153.5,210.8 153.7,212.0 153.6,211.0 153.7,212.2 153.7,215.0 153.5,214.3 153.7,216.6 153.6,216.0 153.5,218.3 153.6,219.5 153.7,219.4 153.8,221.2 153.8,220.7 153.7,222.2 153.8,224.4 153.9,225.4 153.7,225.2 153.7,227.5 153.8,228.0 153.8,226.0 154.0,226.8 154.1,225.6 153.9,224.9 154.1,222.5 154.1,220.7 153.9,219.8 154.0,220.0 154.3,220.3 154.1,217.9 154.2,215.9 154.2,216.1 154.3,215.0 154.3,216.6 154.2,217.8 154.3,216.8 154.3,219.0 154.3,220.5 154.4,220.5 154.5,222.6 154.4,222.6 154.6,225.2 154.4,225.3 154.5,225.9 154.4,226.4 154.6,229.4 154.5,227.9 154.5,230.3 154.7,229.7 154.6,232.8 154.6,231.8 154.8,232.8 154.6,233.7 154.6,236.8 154.6,235.9 154.7,237.0 154.6,240.0 154.8,239.1 154.7,240.8 154.7,240.9 154.7,244.4 154.8,244.0 154.9,242.3 155.0,243.1 155.0,240.9 154.9,240.3 155.0,238.9 154.9,238.7 155.2,236.1 155.2,234.9 155.0,234.5 155.1,233.3 155.1,234.4 155.2,233.0 155.3,230.1 155.3,230.0 155.2,230.5 155.4,231.8 155.4,234.1 155.5,232.6 155.5,235.3 155.4,237.3 155.5,238.0 155.4,237.3 155.4,238.6 155.4,239.6 155.6,240.2 155.6,241.7 155.6,244.1 155.7,243.3 155.7,245.9 155.7,246.7 155.5,247.9 155.6,248.5 155.5,250.0 155.6,250.1 155.6,251.9 155.8,253.0 155.6,254.1 155.8,255.3 155.8,255.5 155.9,254.7 155.8,257.1 155.8,258.0 156.0,256.5 156.1,256.8 156.0,254.2 156.0,253.3 156.0,252.5 156.2,252.9 156.2,249.8 156.4,250.0 156.3,251.7 156.4,251.9 156.6,253.9 156.6,253.4 156.6,256.1 156.7,257.2 156.7,256.5 156.5,258.2 156.8,259.3 156.7,260.1 156.9,260.8 156.7,262.5 156.8,262.6 156.9,265.3 157.0,263.9 157.0,264.7 157.0,266.8 157.0,268.0 156.9,266.8 157.2,266.0 157.1,265.7 157.3,263.0 157.1,263.7 157.4,262.9 157.3,260.5 157.5,260.3 157.4,257.8 157.5,257.1 157.5,255.7 157.6,255.5 157.6,254.5 157.8,254.5 157.7,258.0 157.6,258.4 157.8,259.8 157.9,260.4 158.0,260.3 157.8,260.8 158.1,262.7 158.1,264.9 158.2,264.8 158.0,266.0 158.2,267.2 158.2,267.6 158.1,268.2 158.2,269.7 158.2,270.8 158.3,270.5 158.4,273.6 158.4,274.0 158.4,272.2 158.4,272.0 158.6,271.3 158.6,269.1 158.7,269.6 158.7,268.6 158.8,266.3 158.6,267.2 158.8,266.3 158.7,262.8 158.9,263.9 158.9,261.0 159.1,261.4 159.1,259.5 158.9,258.3 159.0,257.0 159.1,257.3 159.1,255.0 159.2,255.0 159.1,254.8 159.3,256.5 159.3,257.1 159.5,258.8 159.5,260.0 159.3,260.9 159.3,262.3 159.4,262.0 159.7,264.6 159.5,264.7 159.6,265.8 159.6,267.6 159.8,267.0 159.6,269.2 159.8,271.0 159.8,270.6 159.8,273.2 159.8,272.8 159.9,274.2 160.1,275.7 159.9,275.0 160.1,278.0 160.1,278.3 160.2,278.5 160.1,280.0 160.1,279.1 160.1,277.1 160.3,278.2 160.2,274.6 160.3,274.9 160.5,273.6 160.4,272.6 160.5,273.2 160.4,270.9 160.5,269.7 160.5,269.8 160.5,267.6 160.7,266.6 160.6,266.1 160.8,264.5 160.8,263.0 160.7,261.6 160.8,262.0 160.9,261.7 160.8,263.0 160.8,263.7 161.0,266.7 161.1,268.2 161.2,268.1 161.2,267.8 161.0,269.8 161.3,271.7 161.1,271.7 161.3,274.1 161.4,274.3 161.2,273.7 161.2,274.9 161.4,277.6 161.3,276.9 161.5,278.1 161.7,280.5 161.7,280.6 161.6,282.0 161.6,280.8 161.6,279.2 161.9,280.3 161.7,278.5 161.7,275.9 161.9,275.4 161.9,273.5 161.8,274.3 162.1,272.6 162.0,272.0 162.1,271.8 162.1,269.2 162.3,269.9 162.2,268.8 162.1,265.6 162.3,265.2 162.4,263.1 162.4,264.4 162.4,262.5 162.5,262.1 162.5,264.3 162.6,265.8 162.7,266.3 162.7,268.9 162.6,269.0 162.6,269.3 162.8,271.9 162.8,272.5 162.8,274.2 162.9,273.2 162.9,274.1 163.0,274.8 162.8,276.8 162.8,279.1 163.1,280.1 163.1,278.9 163.2,281.1 163.1,282.2 163.0,284.2 163.0,284.8 163.2,285.0 163.1,283.3 163.3,284.0 163.2,282.6 163.4,281.6 163.4,278.7 163.4,279.5 163.4,278.3 163.7,276.4 163.7,277.1 163.6,274.6 163.7,274.6 163.8,272.6 163.9,271.4 163.7,270.6 163.7,270.4 163.7,269.2 163.9,269.0 163.8,267.3 163.9,266.0 164.1,263.8 164.1,262.2 164.1,262.5 164.2,262.3 164.0,265.7 164.2,265.5 164.3,267.2 164.4,267.1 164.2,267.7 164.2,270.6 164.3,269.8 164.3,271.2 164.4,274.0 164.3,274.6 164.4,275.9 164.5,276.9 164.6,278.2 164.5,278.2 164.5,279.9 164.7,278.7 164.7,281.8 164.6,282.6 164.8,282.8 164.8,285.3 164.8,284.0 164.7,286.1 164.8,287.0 164.7,285.0 164.9,284.9 164.8,283.3 165.0,283.1 164.8,282.2 164.9,282.0 165.1,281.2 165.0,277.8 165.0,279.2 165.0,276.9 165.0,274.4 165.1,273.7 165.2,274.1 165.2,274.0 165.3,271.3 165.2,271.1 165.3,270.7 165.3,268.2 165.5,267.1 165.5,265.9 165.2,264.3 165.3,264.7 165.3,263.6 165.5,263.5 165.6,262.1 165.5,260.5 165.6,262.9 165.4,263.2 165.6,262.2 165.6,265.9 165.5,265.8 165.8,266.4 165.8,267.9 165.6,267.2 165.9,268.7 165.9,269.5 165.9,271.0 165.8,272.8 165.8,275.1 165.8,275.3 166.1,276.7 166.0,275.7 165.9,277.1 166.1,278.4 166.2,281.2 166.1,282.3 166.0,282.3 166.1,283.5 166.3,283.5 166.1,284.2 166.1,285.0 166.3,287.2 166.3,287.0 166.3,289.0 166.3,288.2 166.4,286.7 166.3,284.6 166.3,284.8 166.4,284.7 166.4,283.9 166.5,280.8 166.5,280.7 166.5,280.8 166.7,279.5 166.6,277.9 166.7,278.2 166.6,275.1 166.7,273.8 166.8,272.8 166.7,272.8 167.0,272.0 166.8,270.3 166.9,270.0 166.9,270.4 167.0,273.2 166.9,272.8 166.9,272.7 167.1,276.0 167.1,275.0 167.1,275.7 167.0,277.5 167.3,279.7 167.1,280.0 167.2,281.5 167.2,282.5 167.2,284.2 167.3,283.2 167.3,284.1 167.6,286.5 167.4,286.5 167.4,288.5 167.6,288.7 167.4,289.8 167.6,289.8 167.6,292.0 167.8,292.4 167.7,288.8 167.6,289.0 167.8,288.5 167.7,287.9 167.9,287.3 167.8,284.9 167.8,284.0 168.0,283.5 168.1,282.2 168.1,279.7 168.0,280.9 168.0,278.5 168.2,278.2 168.2,276.6 168.3,275.6 168.4,274.4 168.3,274.0 168.2,274.8 168.4,274.8 168.4,278.1 168.5,277.0 168.3,279.6 168.5,279.7 168.4,279.6 168.7,281.6 168.5,284.4 168.7,285.2 168.7,286.1 168.7,287.4 168.7,288.3 168.7,287.1 168.7,289.0 168.8,289.6 168.7,291.3 168.8,291.4 168.9,293.0 168.8,294.5 168.9,295.1 169.0,296.8 169.0,297.0 169.0,296.8 169.2,294.3 169.1,294.0 169.1,292.4 169.3,292.6 169.3,290.9 169.3,289.2 169.3,288.6 169.4,287.6 169.3,287.7 169.5,285.2 169.5,285.4 169.6,284.4 169.4,282.3 169.5,281.6 169.7,282.3 169.7,280.0 169.9,279.4 169.8,278.8 169.8,276.4 170.1,276.7 170.0,274.7 170.1,273.0 170.3,273.3 170.4,272.6 170.3,270.4 170.4,269.5 170.6,270.0 170.4,270.6 170.7,272.0 170.5,274.7 170.8,275.7 170.6,275.5 170.7,277.5 170.9,276.7 170.8,278.6 170.8,280.1 170.9,279.5 170.8,281.5 171.1,282.6 171.1,283.5 171.1,285.0 171.1,284.4 171.3,281.6 171.3,282.3 171.5,280.1 171.4,281.2 171.6,279.2 171.5,277.5 171.7,277.0 171.8,277.5 171.8,279.3 171.7,278.9 171.8,280.4 172.0,281.6 172.1,281.8 172.1,283.2 172.0,284.2 171.9,285.6 172.2,287.8 172.2,287.2 172.3,288.8 172.2,288.6 172.3,290.1 172.4,292.7 172.3,293.0 172.3,294.7 172.5,294.1 172.6,295.6 172.5,296.8 172.6,294.5 172.6,293.7 172.7,292.2 172.9,291.9 173.0,291.2 173.2,290.0 173.3,291.6 173.2,293.5 173.3,293.2 173.5,293.8 173.5,294.4 173.4,295.9 173.5,297.7 173.4,297.8 173.6,300.8 173.7,299.4 173.7,301.7 173.9,302.1 173.8,303.7 173.8,302.2 173.9,303.0 173.8,300.4 174.0,300.2 174.0,298.6 174.2,297.0 174.2,296.6 174.3,295.4 174.2,293.4 174.4,295.1 174.3,293.3 174.3,291.7 174.5,289.8 174.5,289.8 174.4,289.4 174.4,288.2 174.5,287.2 174.5,285.9 174.5,285.0 174.7,283.8 174.6,281.8 174.7,282.4 174.8,281.2 174.6,280.1 174.8,278.7 174.8,278.1 174.7,276.5 174.9,277.3 174.7,275.4 174.7,274.3 175.0,274.2 174.8,272.6 174.8,272.0 174.9,270.9 175.0,267.6 175.0,267.8 175.0,267.5 174.9,267.0 175.0,265.0 175.0,265.2 175.0,261.6 174.9,260.7 174.9,261.4 175.0,259.0 175.2,258.4 175.2,259.2 175.1,258.4 175.1,256.9 175.2,256.2 175.1,254.7 175.3,251.8 175.2,252.2 175.1,252.0 175.2,250.6 175.2,249.8 175.4,247.1 175.3,246.4 175.2,247.0 175.2,245.6 175.2,243.2 175.3,244.3 175.3,242.0 175.4,239.6 175.4,240.7 175.3,238.6 175.4,237.6 175.3,237.5 175.3,236.1 175.4,235.0 175.4,235.2 175.5,233.0 175.5,231.0 175.6,230.4 175.4,228.7 175.5,229.2 175.6,227.4 175.5,225.9 175.7,224.3 175.7,224.0 175.7,223.8 175.5,223.0 175.6,222.4 175.8,221.6 175.8,220.0 175.8,218.3 175.7,218.8 175.8,215.3 175.8,215.4 176.0,216.7 176.4,218.0 176.6,218.2 176.4,219.8 176.6,220.2 176.6,221.3 176.6,223.4 176.8,224.3 176.9,223.9 176.7,225.5 176.9,228.2 176.8,228.6 176.9,230.4 176.9,231.3 177.1,231.9 177.1,232.3 177.2,232.5 177.2,234.8 177.1,236.4 177.3,237.0 177.4,236.7 177.2,239.9 177.2,239.1 177.2,240.1 177.3,241.8 177.4,242.3 177.5,243.5 177.3,245.5 177.3,245.1 177.3,246.4 177.6,248.5 177.4,250.3 177.6,248.6 177.7,250.7 177.5,251.6 177.7,251.7 177.6,254.0 177.7,254.8 177.7,256.9 177.7,256.0 177.7,259.1 177.8,259.4 177.8,259.9 177.8,260.3 177.8,262.0 177.8,262.0 178.1,259.5 178.0,260.3 178.2,258.2 178.3,257.8 178.3,254.7 178.5,254.7 178.6,256.3 178.6,255.9 178.6,258.2 178.6,257.4 178.7,259.3 178.6,260.3 178.6,262.3 178.7,263.7 178.9,264.0 178.9,263.8 179.0,264.6 178.9,265.5 178.8,267.5 178.9,268.6 178.8,269.7 178.9,271.0 179.0,272.0 179.0,274.5 179.0,274.1 179.1,276.7 179.3,276.9 179.4,277.3 179.2,278.1 179.4,279.9 179.5,277.5 179.5,278.9 179.7,276.6 179.6,275.1 179.8,274.7 180.0,274.9 180.0,271.8 179.9,271.3 180.3,270.4 180.3,268.9 180.2,269.1 180.4,267.4 180.4,269.7 180.7,268.9 180.7,269.2 180.8,270.5 180.8,271.2 180.9,272.9 181.0,273.6 181.1,275.9 181.3,277.8 181.4,277.9 181.5,278.2 181.5,280.9 181.7,281.6 181.9,283.1 182.2,283.1 182.1,282.7 182.4,284.8 182.9,286.4 183.3,287.4 183.9,287.8 184.0,286.8 184.1,285.5 184.3,284.9 184.5,283.0 184.7,281.4 184.7,281.5 185.0,279.4 185.2,279.5 185.2,278.1 185.4,277.4 185.4,279.6 185.6,280.8 185.7,281.9 185.7,280.8 185.6,282.8 185.8,285.0 185.8,285.5 186.0,284.4 185.9,285.7 185.9,288.0 186.1,288.6 186.2,288.5 186.2,289.6 186.3,292.2 186.2,291.4 186.3,295.1 186.4,294.8 186.4,295.6 186.6,297.4 186.6,298.2 186.7,299.0 186.9,298.8 186.9,302.1 186.8,303.2 186.8,303.7 187.0,304.4 187.1,306.0 187.1,305.7 187.1,305.8 187.3,304.5 187.4,302.2 187.6,302.6 187.7,301.7 187.6,298.8 187.7,299.0 187.8,297.3 188.1,295.8 188.2,295.0 188.3,294.3 188.2,293.2 188.4,292.8 188.4,293.5 188.6,294.6 188.8,294.4 188.7,296.4 188.8,299.1 188.9,298.0 189.2,298.6 189.2,301.0 189.2,301.0 189.4,302.7 189.4,303.1 189.6,302.1 189.7,298.6 189.7,297.3 189.7,298.6 189.8,296.9 189.8,294.7 189.8,294.1 190.0,292.9 190.0,293.0 190.0,292.1 190.2,292.0 190.1,290.0 190.1,290.0 190.2,286.6 190.4,287.4 190.4,286.2 190.4,284.8 190.5,285.1 190.4,282.7 190.4,282.6 190.5,279.7 190.4,280.7 190.6,279.4 190.4,276.8 190.4,276.8 190.7,277.2 190.6,274.7 190.4,274.3 190.4,274.3 190.5,270.7 190.6,269.5 190.7,269.7 190.7,268.7 190.6,268.7 190.6,266.2 190.6,265.9 190.6,265.4 190.7,263.5 190.6,264.4 190.5,261.5 190.6,259.8 190.7,260.0 190.8,258.7 190.9,258.5 190.8,257.8 190.6,256.0 190.7,254.4 190.7,254.0 190.8,252.7 190.8,251.5 190.9,249.3 190.9,250.3 190.9,247.3 191.0,248.4 190.7,247.0 190.9,245.2 191.0,247.3 191.1,246.7 191.1,249.3 191.0,248.7 191.0,250.1 191.1,252.3 191.1,252.1 191.1,254.8 191.1,255.8 191.0,257.1 191.2,256.6 191.3,258.5 191.2,259.2 191.3,260.3 191.4,261.5 191.3,262.0 191.3,261.6 191.3,265.1 191.3,265.8 191.6,266.4 191.5,266.2 191.6,267.2 191.7,269.0 191.7,269.4 191.8,272.2 191.7,273.2 191.8,273.0 191.9,273.5 191.9,274.9 192.0,275.0 192.1,277.7 192.0,276.5 192.2,278.9 192.2,278.9 192.2,280.6 192.0,283.1 192.1,282.4 192.2,282.8 192.3,285.4 192.4,284.7 192.3,286.8 192.5,288.7 192.6,288.0 192.4,290.7 192.7,289.3 192.5,292.7 192.7,293.6 192.8,294.2 192.6,296.2 192.9,296.7 192.8,296.2 192.9,298.3 192.8,298.9 192.9,299.0 193.0,299.7 192.9,302.8 193.1,303.3 193.1,302.6 193.1,304.7 193.2,304.5 193.3,301.6 193.4,302.5 193.4,301.6 193.6,298.6 193.6,299.9 193.9,296.5 194.0,295.6 194.0,294.6 194.3,295.3 194.3,293.5 194.4,292.8 194.5,290.4 194.7,290.1 194.9,290.4 195.0,288.9 195.0,286.7 195.1,286.2 195.2,286.5 195.4,284.3 195.6,284.9 195.7,282.8 195.7,283.7 195.9,286.0 195.9,285.6 195.8,287.8 195.9,287.1 196.1,288.8 196.1,288.8 196.1,292.2 196.3,291.4 196.2,293.9 196.3,292.7 196.5,295.4 196.4,296.2 196.4,296.8 196.5,297.6 196.7,299.9 196.6,301.0 196.6,302.1 196.8,302.9 196.8,302.7 196.8,302.8 196.7,302.1 197.0,300.7 197.1,298.4 197.1,296.9 197.0,296.6 197.2,294.9 197.0,295.4 197.1,295.1 197.2,292.4 197.3,292.0 197.3,292.1 197.2,289.4 197.4,287.5 197.4,288.0 197.4,288.2 197.4,285.4 197.5,284.8 197.6,282.9 197.5,283.1 197.5,281.6 197.5,280.3 197.7,279.7 197.5,279.0 197.5,276.5 197.7,276.4 197.5,277.0 197.6,275.7 197.6,274.0 197.5,271.5 197.7,272.4 197.7,270.5 197.6,270.8 197.7,267.6 197.6,268.3 197.7,265.6 197.7,264.6 197.6,265.3 197.6,263.8 197.6,262.0 197.7,262.8 197.7,261.6 197.7,260.8 197.7,259.4 197.6,258.1 197.8,258.3 197.8,256.1 197.7,253.8 197.9,253.2 197.8,251.6 197.9,253.1 197.7,251.6 197.8,250.0 197.9,248.2 197.9,247.4 197.9,246.5 197.9,246.2 197.8,246.4 197.7,245.4 197.7,244.0 197.8,242.1 197.8,241.7 198.0,239.1 198.0,239.1 197.8,237.9 197.8,237.7 197.8,235.8 198.0,234.2 198.0,234.6 198.0,232.7 197.8,232.4 198.0,231.0 197.9,230.5 197.9,228.3 197.9,226.7 198.0,227.5 198.0,224.9 198.1,223.7 197.9,222.8 198.0,222.1 198.1,221.1 198.0,222.1 198.1,220.5 198.0,218.9 198.2,219.1 198.0,215.3 198.0,215.2 198.2,214.5 198.2,212.3 197.9,212.2 198.0,212.9 198.0,209.9 198.1,209.7 198.0,210.3 198.1,210.8 198.2,213.0 198.3,213.2 198.4,215.6 198.5,215.3 198.4,217.7 198.4,217.8 198.6,217.8 198.4,220.2 198.6,222.1 198.6,220.5 198.6,222.2 198.6,224.9 198.7,224.9 198.8,225.1 198.9,226.8 198.8,228.0 199.0,226.1 198.9,224.6 199.0,223.9 199.1,224.0 199.1,223.8 199.4,222.3 199.3,219.8 199.5,220.7 199.6,218.9 199.6,221.2 199.8,220.6 199.8,221.5 199.6,224.0 199.8,224.1 199.8,223.8 199.8,226.7 199.6,227.2 199.7,229.3 199.9,229.8 199.9,229.4 199.9,230.7 200.0,230.6 200.0,232.6 200.0,233.9 199.9,234.4 199.9,234.6 200.1,235.7 199.9,238.5 200.1,240.4 199.9,241.3 200.1,241.6 199.9,242.3 200.0,244.2 200.2,244.3 200.1,245.0 200.0,245.3 200.1,248.2 200.1,246.7 200.3,250.4 200.1,249.2 200.3,252.2 200.2,252.2 200.4,252.7 200.3,252.6 200.5,253.7 200.5,254.9 200.5,258.0 200.5,256.7 200.4,259.0 200.5,259.0 200.4,261.9 200.5,262.0 200.5,262.1 200.4,259.3 200.6,258.9 200.7,258.2 200.6,257.1 200.5,257.5 200.5,253.7 200.5,253.5 200.5,252.8 200.6,253.3 200.7,252.2 200.7,250.8 200.7,248.5 200.7,247.3 200.8,247.4 200.7,245.2 200.8,246.1 200.6,245.5 200.6,242.3 200.8,242.8 200.8,241.6 200.8,240.2 200.8,240.4 200.8,238.7 200.9,237.2 200.7,236.4 200.8,235.0 200.9,234.0 200.8,232.8 200.8,232.0 200.8,232.6 201.0,228.9 200.9,229.0 200.9,228.5 200.8,226.5 201.1,227.4 201.0,224.7 200.8,223.8 201.1,224.5 200.9,221.6 201.1,221.9 201.0,220.3 201.1,218.6 201.2,219.4 201.1,216.3 201.1,217.8 201.0,215.3 201.1,214.4 201.2,214.1 201.2,215.2 201.1,217.9 201.3,219.6 201.1,219.8 201.2,220.8 201.3,220.8 201.1,223.2 201.2,222.8 201.2,224.8 201.4,225.4 201.3,225.7 201.4,227.1 201.2,230.0 201.2,230.0 201.4,230.4 201.3,232.1 201.2,231.4 201.3,233.9 201.4,234.2 201.4,236.9 201.4,236.1 201.5,237.1 201.4,237.8 201.6,239.7 201.4,239.9 201.4,240.8 201.5,242.4 201.5,244.7 201.5,244.8 201.7,246.7 201.7,246.7 201.7,247.2 201.6,249.1 201.6,250.0 201.6,250.7 201.8,250.9 201.7,252.6 201.7,253.9 201.6,254.1 201.8,255.5 201.6,257.1 201.8,258.6 201.8,257.7 202.0,259.2 201.8,261.1 201.9,261.3 201.9,262.4 202.1,264.8 202.1,265.6 201.9,266.4 202.0,265.7 202.1,267.3 202.1,269.9 202.1,269.8 202.2,272.4 202.1,271.5 202.1,274.4 202.1,275.0 202.2,275.4 202.3,276.0 202.3,276.1 202.2,272.8 202.5,273.9 202.4,272.4 202.3,270.3 202.5,268.7 202.4,267.6 202.3,267.5 202.6,266.7 202.4,265.2 202.5,265.3 202.4,263.9 202.4,264.0 202.4,260.9 202.5,260.9 202.6,260.0 202.5,260.0 202.7,256.5 202.5,255.4 202.6,254.8 202.5,255.6 202.7,253.2 202.5,253.3 202.8,252.3 202.6,250.5 202.6,250.2 202.6,247.7 202.6,247.5 202.8,246.4 202.7,245.9 202.6,245.6 202.9,243.2 202.8,242.7 203.0,244.8 202.9,245.5 202.9,246.6 202.8,245.6 203.1,246.6 202.9,248.3 202.9,249.9 203.1,251.4 203.2,252.7 203.0,252.3 203.2,254.6 203.1,254.5 203.3,254.9 203.3,256.8 203.2,257.4 203.3,258.9 203.2,261.0 203.3,261.5 203.4,263.0 203.3,263.1 203.5,263.3 203.4,265.8 203.4,264.8 203.3,268.3 203.5,268.0 203.5,267.9 203.6,266.1 203.6,264.7 203.8,262.8 203.6,261.8 203.8,262.4 203.8,261.8 203.7,261.1 203.8,257.5 203.8,258.7 204.0,256.9 204.0,254.8 204.1,256.0 204.0,253.5 204.2,252.1 204.2,252.6 204.2,250.2 204.3,249.7 204.3,248.3 204.2,248.2 204.3,246.7 204.4,247.9 204.5,248.8 204.5,248.3 204.4,251.4 204.3,252.8 204.5,252.3 204.4,254.7 204.5,256.2 204.4,254.5 204.5,255.6 204.4,257.3 204.4,258.7 204.7,261.0 204.6,261.0 204.6,261.3 204.8,262.4 204.7,265.2 204.5,265.9 204.6,264.8 204.7,265.9 204.8,269.4 204.7,270.3 204.6,269.2 204.6,270.3 204.8,272.0 204.8,271.0 204.9,270.4 204.9,269.2 205.0,268.5 205.0,267.5 205.0,265.7 205.1,263.4 205.0,264.1 205.3,263.7 205.3,262.7 205.2,260.6 205.3,259.6 205.4,260.0 205.2,263.0 205.3,261.2 205.4,263.2 205.5,263.6 205.6,265.2 205.4,266.2 205.6,266.8 205.6,269.0 205.6,268.5 205.7,271.4 205.5,273.0 205.8,272.4 205.8,273.9 205.5,274.1 205.6,277.1 205.7,277.0 205.9,278.1 205.9,280.2 205.8,279.9 206.0,280.3 205.9,280.8 205.9,284.6 206.1,284.0 206.2,284.8 206.1,287.1 206.3,287.8 206.3,290.0 206.6,290.4 206.6,289.8 207.0,293.2 207.1,292.7 207.3,295.2 207.3,294.9 207.6,295.9 207.7,297.5 207.8,297.8 208.0,299.8 208.3,300.1 208.5,300.1 208.6,300.6 208.6,303.3 208.9,305.3 209.1,304.2 209.3,306.2 209.4,305.4 209.5,302.7 209.6,303.7 209.9,301.3 210.1,302.1 210.0,299.0 210.3,299.7 210.2,297.5 210.4,296.7 210.8,296.1 210.8,294.8 210.7,293.0 210.8,293.4 211.0,291.0 211.0,292.2 211.1,289.3 211.2,287.9 211.2,288.4 211.2,287.7 211.4,284.7 211.6,284.7 211.6,282.7 211.6,283.4 211.7,280.8 211.7,281.6 211.8,279.9 212.0,278.8 212.0,278.1 212.2,275.9 212.4,275.9 212.4,276.1 212.5,273.2 212.7,273.0 212.9,270.8 212.9,272.0 213.0,270.8 213.3,268.9 213.3,267.4 213.3,267.6 213.3,270.9 213.5,270.0 213.7,272.3 213.8,273.9 213.7,272.2 213.9,273.3 214.0,274.4 214.0,277.2 214.1,278.8 214.2,280.2 214.3,279.9 214.4,281.2 214.6,281.2 214.5,281.4 214.8,283.3 214.6,284.9 214.9,285.3 214.8,287.7 215.0,288.6 215.1,288.9 215.2,289.8 215.8,288.6 216.2,287.8 216.4,290.0 216.4,290.5 216.3,289.7 216.6,292.7 216.6,293.1 216.8,293.1 216.6,294.8 216.8,295.3 217.1,295.5 217.1,298.9 217.1,297.3 217.2,299.7 217.4,299.6 217.5,302.6 217.4,303.5 217.5,302.3 217.9,305.7 217.8,305.7 217.9,307.7 217.9,307.2 218.2,308.7 218.3,309.1 218.5,307.5 218.7,306.0 218.8,305.5 218.6,305.1 218.8,303.5 218.9,301.2 218.9,302.2 219.1,299.6 219.3,300.2 219.4,298.4 219.4,297.6 219.7,295.5 219.7,294.8 219.9,296.4 220.1,296.2 220.1,298.5 220.2,298.5 220.2,298.5 220.3,300.2 220.6,300.4 220.7,303.4 220.9,302.9 221.0,305.7 221.1,304.9 221.2,306.7 221.3,305.4 221.6,303.7 221.8,304.1 221.8,301.8 221.9,301.8 222.2,300.2 222.5,299.7 222.6,299.0 222.7,297.8 222.9,297.0 222.8,295.4 223.1,296.2 223.1,292.7 223.3,292.0 223.3,290.7 223.4,290.8 223.6,289.1 223.6,287.9 223.8,287.1 224.0,286.8 224.0,287.3 224.0,288.4 224.2,288.4 224.2,291.5 224.1,290.3 224.2,293.9 224.4,292.9 224.2,295.9 224.4,295.8 224.3,295.6 224.5,298.1 224.5,299.1 224.4,299.4 224.6,299.3 224.7,302.8 224.7,301.5 224.6,302.8 224.7,304.7 224.9,304.8 225.0,307.6 225.2,307.4 225.2,308.0 225.2,310.2 225.3,310.4 225.5,312.6 225.7,312.7 225.7,310.6 225.9,311.1 226.0,309.8 225.9,309.5 225.9,307.8 226.0,306.0 226.1,304.5 226.2,305.9 226.2,302.5 226.3,303.0 226.2,300.4 226.5,301.0 226.6,298.5 226.6,298.0 226.6,297.9 226.6,298.1 226.7,295.6 226.9,295.8 226.9,294.6 226.9,292.8 227.0,294.4 227.2,296.2 227.0,296.6 227.1,297.1 227.3,297.1 227.3,298.1 227.3,299.9 227.5,301.6 227.6,303.4 227.4,303.9 227.6,304.5 227.6,306.3 227.6,305.6 227.8,307.0 227.7,307.5 227.8,309.1 227.9,309.2 228.0,310.7 228.0,312.2 228.0,312.1 228.2,314.2 228.4,313.3 228.3,311.5 228.5,310.6 228.6,310.1 228.5,307.6 228.7,307.2 228.8,306.7 228.9,307.4 229.1,305.2 229.1,304.4 229.1,303.9 229.4,300.6 229.4,301.0 229.5,298.6 229.6,298.5 229.7,297.2 229.7,296.8 229.7,297.4 229.8,299.9 230.0,299.1 230.0,302.2 230.3,300.9 230.3,301.5 230.5,304.6 230.4,305.6 230.6,306.9 230.7,307.6 230.8,308.8 230.9,308.7 230.9,307.0 230.9,306.7 231.3,304.7 231.3,304.9 231.3,302.7 231.3,302.6 231.6,301.1 231.6,301.4 231.7,300.1 231.7,300.1 231.9,296.5 231.8,295.8 232.0,294.7 232.0,295.0 232.0,293.7 232.2,292.8 232.3,292.4 232.5,290.1 232.6,290.9 232.4,290.0 232.6,287.2 232.8,285.8 232.7,286.6 233.1,284.4 233.0,284.5 233.1,282.3 233.2,282.2 233.3,284.4 233.2,284.5 233.2,287.8 233.3,287.8 233.5,289.2 233.5,290.8 233.6,291.7 233.6,290.3 233.8,291.4 233.8,295.1 233.8,295.4 234.0,295.8 234.1,296.8 234.2,296.6 234.2,298.6 234.4,300.7 234.3,299.7 234.4,300.5 234.7,303.1 234.8,305.1 234.9,303.6 234.8,306.5 235.0,308.2 234.9,306.6 235.1,308.7 235.2,306.6 235.4,307.1 235.2,304.3 235.3,306.1 235.6,303.1 235.6,301.6 235.6,302.9 235.5,301.1 235.8,300.1 235.8,299.6 235.8,296.7 235.8,297.2 236.0,294.7 236.1,294.8 236.3,296.6 236.6,296.4 236.6,298.0 237.0,298.9 237.0,299.4 237.4,300.9 237.3,302.1 237.6,302.7 237.6,301.9 237.8,300.6 237.8,298.2 237.9,298.0 237.9,298.5 237.9,296.9 238.1,294.8 238.1,294.5 238.2,294.2 238.2,291.9 238.5,292.3 238.4,290.3 238.4,292.6 238.6,291.1 238.7,292.0 238.6,294.9 238.7,295.2 238.7,295.4 238.9,298.3 238.7,298.7 238.8,298.7 239.0,299.1 239.2,301.7 239.2,302.7 239.1,303.5 239.2,303.9 239.3,306.9 239.3,305.2 239.4,306.7 239.4,308.7 239.6,310.9 239.4,309.5 239.6,311.7 239.8,311.3 239.9,310.1 240.0,307.4 240.2,308.7 240.2,305.4 240.5,306.9 240.7,303.7 240.9,304.9 241.0,303.1 241.1,301.7 241.2,301.5 241.3,304.6 241.6,303.7 241.5,306.3 241.8,305.4 242.0,309.0 241.9,309.8 242.1,309.9 242.2,310.2 242.3,311.6 242.6,312.7 242.7,312.2 242.8,311.9 242.9,308.5 243.0,308.8 242.8,307.7 242.9,307.3 243.0,307.1 243.1,305.9 243.2,303.3 243.2,303.4 243.3,301.1 243.3,301.4 243.4,298.8 243.3,299.2 243.7,297.1 243.6,296.8 243.7,295.1 243.6,294.2 243.9,293.8 243.7,293.6 243.9,292.4 244.0,290.7 243.9,289.9 244.0,289.4 244.3,287.2 244.2,287.0 244.3,286.4 244.4,284.5 244.4,283.8 244.5,283.4 244.8,284.5 244.8,288.0 244.9,286.8 245.0,288.2 245.1,290.2 245.1,291.5 245.3,292.8 245.5,293.5 245.5,293.1 245.6,294.8 246.1,293.4 246.8,292.8 246.9,294.9 246.9,294.8 246.8,296.9 247.1,296.4 247.1,297.9 247.1,298.1 247.2,300.2 247.4,302.0 247.2,303.1 247.3,302.8 247.3,303.3 247.6,304.7 247.5,306.5 247.6,306.7 248.0,305.1 248.3,303.4 248.4,304.7 248.8,304.0 249.1,301.7 249.2,302.4 249.3,304.0 249.6,305.8 249.4,305.2 249.7,307.5 249.7,308.1 250.0,307.5 250.0,309.3 250.1,312.1 250.1,312.1 250.5,312.9 250.5,313.7 250.8,313.7 251.0,317.0 251.3,317.5 251.4,318.3 251.7,319.6 251.8,320.0 252.0,320.6 252.1,318.7 252.3,318.1 252.2,318.4 252.3,318.1 252.4,314.4 252.7,313.4 252.7,313.3 252.8,313.7 252.9,312.1 253.0,310.7 253.2,309.5 253.2,307.9 253.2,307.5 253.4,305.5 253.5,306.3 253.8,303.1 253.9,302.3 253.9,300.9 254.0,301.2 254.0,301.2 254.2,303.0 254.2,304.1 254.3,305.1 254.5,305.8 254.4,306.5 254.5,308.6 254.5,310.1 254.7,311.1 254.7,312.8 254.8,312.4 254.9,313.8 255.0,314.7 255.7,313.7" fill="none" stroke="#ab2f2c" stroke-width="2.2" stroke-linejoin="round" stroke-linecap="round"/>
<circle cx="343.85" cy="321.3" r="3.85" fill="#4a8a78"/>
<line x1="343.85" x2="343.85" y1="285.1" y2="316.9" stroke="#eba321" stroke-width="4.1"/>
<line x1="331.8" x2="355.90000000000003" y1="285.1" y2="285.1" stroke="#eba321" stroke-width="4.1"/>
<line x1="331.8" x2="355.90000000000003" y1="316.9" y2="316.9" stroke="#eba321" stroke-width="4.1"/>
<circle cx="343.85" cy="302.2" r="5.5" fill="#eba321"/>
<circle cx="343.85" cy="316.2" r="4.6" fill="#ab2f2c"/>
<path d="M340.30 313.05L347.40 320.15M340.30 320.15L347.40 313.05" stroke="#000" stroke-width="2.35" fill="none"/>
<circle cx="410.85" cy="284.8" r="3.85" fill="#4a8a78"/>
<line x1="410.85" x2="410.85" y1="144.3" y2="272.1" stroke="#eba321" stroke-width="4.1"/>
<line x1="398.8" x2="422.90000000000003" y1="144.3" y2="144.3" stroke="#eba321" stroke-width="4.1"/>
<line x1="398.8" x2="422.90000000000003" y1="272.1" y2="272.1" stroke="#eba321" stroke-width="4.1"/>
<circle cx="410.85" cy="216.5" r="5.5" fill="#eba321"/>
<circle cx="410.85" cy="253.1" r="4.6" fill="#ab2f2c"/>
<path d="M407.30 266.65L414.40 273.75M407.30 273.75L414.40 266.65" stroke="#000" stroke-width="2.35" fill="none"/>
<circle cx="477.5" cy="322.5" r="3.85" fill="#4a8a78"/>
<line x1="477.5" x2="477.5" y1="272.1" y2="308.8" stroke="#eba321" stroke-width="4.1"/>
<line x1="465.45" x2="489.55" y1="272.1" y2="272.1" stroke="#eba321" stroke-width="4.1"/>
<line x1="465.45" x2="489.55" y1="308.8" y2="308.8" stroke="#eba321" stroke-width="4.1"/>
<circle cx="477.5" cy="290.1" r="5.5" fill="#eba321"/>
<circle cx="477.5" cy="316.3" r="4.6" fill="#ab2f2c"/>
<path d="M473.95 309.95L481.05 317.05M473.95 317.05L481.05 309.95" stroke="#000" stroke-width="2.35" fill="none"/>
<circle cx="544.3" cy="276.0" r="3.85" fill="#4a8a78"/>
<line x1="544.3" x2="544.3" y1="121.3" y2="226.7" stroke="#eba321" stroke-width="4.1"/>
<line x1="532.25" x2="556.3499999999999" y1="121.3" y2="121.3" stroke="#eba321" stroke-width="4.1"/>
<line x1="532.25" x2="556.3499999999999" y1="226.7" y2="226.7" stroke="#eba321" stroke-width="4.1"/>
<circle cx="544.3" cy="178.7" r="5.5" fill="#eba321"/>
<circle cx="544.3" cy="207.4" r="4.6" fill="#ab2f2c"/>
<path d="M540.75 258.25L547.85 265.35M540.75 265.35L547.85 258.25" stroke="#000" stroke-width="2.35" fill="none"/>
<line x1="618.9" x2="870.2" y1="255.5" y2="255.5" stroke="#3a6db5" stroke-width="1.75" stroke-dasharray="6.0 5.68"/>
<line x1="618.9" x2="870.2" y1="273.8" y2="273.8" stroke="#ab2f2c" stroke-width="1.75" stroke-dasharray="6.0 5.68"/>
<polyline points="728.1,238.2 730.1,234.2 731.6,241.7 732.3,241.9 733.3,249.9 734.3,259.8 735.6,266.8 737.0,264.8 738.3,258.8 739.3,254.8 741.3,246.9 742.3,248.9 743.8,257.8 744.7,261.8 745.7,254.8 747.2,254.3 748.7,256.8 750.2,264.8 751.7,268.8 753.2,268.8 754.5,266.8 755.2,257.8 755.9,244.9 756.5,233.0 757.0,225.2 757.9,232.0 758.7,238.7 759.4,232.0 760.2,226.7 761.7,226.2 763.1,229.7 764.4,240.7 765.2,235.0 765.8,230.7 766.6,239.7 767.6,256.8 769.1,258.8 770.6,260.8 772.1,263.8 773.1,264.8 774.1,259.8 775.1,250.9 776.6,240.9 777.6,251.8 778.6,259.8 780.1,266.8 781.5,270.7 783.0,271.7 784.5,268.8 785.0,254.9 786.0,259.9 787.0,249.9 788.0,269.8 789.0,277.8 790.2,272.8 791.5,267.8 792.5,263.8 793.5,267.8 794.4,271.8 795.4,261.8 796.4,259.9 797.4,258.9 798.1,254.9 798.9,249.9 799.7,259.9 800.4,267.8 801.4,274.8 802.9,273.8 804.4,267.8 805.4,264.8 806.1,257.9 808.4,229.8 808.9,209.9 809.4,194.9 810.1,180.0 809.9,151.8 810.9,139.8 812.3,108.4 812.9,123.9 813.9,149.8 814.9,165.7 815.5,171.7 815.9,167.7 816.9,179.6 816.1,180.0 816.9,190.0 817.7,197.9 818.7,189.0 819.4,199.9 819.9,208.9 820.8,213.8 822.0,214.8 822.8,221.8 823.8,232.7 824.8,237.7 825.8,238.7 826.8,247.7 824.8,238.0 825.8,240.0 826.3,249.9 826.8,256.9 827.6,266.8 828.3,274.8 829.0,280.7 829.9,286.7 830.9,280.7 831.7,270.8 832.7,272.8 833.7,269.8 834.7,278.8 835.7,286.7 836.9,294.2 838.2,284.7 839.2,276.8 840.2,274.8 841.2,273.8 842.2,259.9 843.2,260.9 844.2,264.8 845.2,269.8 846.2,272.8 847.6,273.8 849.1,274.3 850.6,276.8 851.6,274.8 852.6,275.8 853.6,274.8 855.1,274.8 856.1,274.8 857.1,281.7 858.1,290.7 858.8,293.7 860.1,282.7 861.4,275.8 862.6,274.8 863.6,276.8 864.1,284.7 864.6,274.8 865.4,276.8 866.0,289.7 866.7,298.6 867.5,302.6 869.0,298.6 870.3,300.6" fill="none" stroke="#3a6db5" stroke-width="2.5" stroke-linejoin="round" stroke-linecap="round"/>
<polyline points="619.0,236.9 620.5,249.9 621.8,259.3 623.0,252.8 624.4,254.8 625.7,247.9 626.9,258.8 627.6,234.9 628.1,224.8 628.9,231.0 629.9,244.9 630.9,256.8 632.4,264.8 633.9,256.8 634.9,244.9 636.1,232.0 637.1,244.9 638.1,241.9 639.4,249.9 641.1,247.9 642.0,254.8 643.3,264.8 644.3,273.7 645.3,264.8 646.3,254.8 647.6,251.8 648.8,262.8 650.0,267.8 651.0,261.8 651.8,253.8 652.8,264.8 654.0,272.7 655.3,262.8 656.3,268.8 657.6,274.2 658.8,268.8 660.2,264.8 661.5,257.8 662.5,256.8 663.7,264.8 664.7,258.8 665.9,264.8 667.2,266.8 668.2,274.7 669.2,282.7 670.5,276.7 671.5,271.2 672.5,280.7 673.7,285.7 675.2,290.1 676.7,287.2 678.1,287.6 679.6,288.6 680.6,282.7 681.8,276.7 682.8,273.7 683.8,282.7 685.1,288.6 686.4,293.6 687.6,290.6 688.6,296.6 689.8,289.6 691.1,284.7 692.1,278.7 693.1,294.6 694.6,291.1 696.0,292.6 697.0,292.6 698.0,284.7 699.3,274.7 700.0,260.8 701.0,254.8 702.0,251.4 703.0,257.8 704.5,259.8 705.5,269.7 706.5,277.7 707.8,261.8 708.9,277.7 710.4,282.7 711.9,285.7 713.4,288.6 714.4,290.1 715.4,280.7 716.4,272.7 717.4,269.7 718.4,274.7 719.9,278.7 721.1,252.3 722.4,274.7 723.9,294.6 724.9,264.8 726.1,246.9 727.3,262.8 728.8,267.8 729.8,278.7 731.0,283.7 732.0,272.7 732.8,244.9 734.0,226.0 734.8,213.3 735.6,230.0 736.2,246.0 736.8,256.0 737.3,266.8 738.3,276.7 739.6,282.7 740.8,286.7 741.8,280.7 742.8,272.7 743.8,266.3 745.2,268.8 746.2,265.8 747.2,264.8 748.2,272.7 749.2,280.7 750.2,288.6 751.2,284.7 752.2,293.6 753.2,288.6 754.2,278.7 755.2,274.7 756.7,272.7 757.7,280.7 758.9,287.6 760.2,290.6 761.5,292.6 762.6,286.7 763.6,280.7 765.1,271.7 766.1,278.7 767.1,273.7 768.1,284.7 769.1,290.6 770.6,288.6 771.6,294.6 773.1,288.6 774.1,284.7 775.4,288.6 776.6,286.7 778.6,282.2 780.1,288.6 781.5,294.6 783.0,298.6 785.0,295.7 786.5,294.7 788.0,293.7 789.0,303.6 790.5,298.6 791.5,297.6 792.5,304.6 793.9,304.6 794.9,300.6 795.9,294.7 796.9,286.7 797.9,280.7 798.9,272.8 799.9,264.8 800.9,260.9 801.9,264.8 802.9,267.8 804.4,268.8 805.9,269.8 806.4,259.9 807.4,239.7 808.4,230.7 809.2,238.7 809.9,224.8 810.7,209.9 811.4,199.4 812.4,209.9 813.1,212.8 813.7,219.8 814.4,226.8 814.9,234.7 815.7,229.8 816.7,228.8 817.4,237.7 818.4,245.7 819.4,255.0 819.3,252.9 820.3,256.9 821.0,264.8 821.8,268.8 823.3,269.8 824.3,268.8 825.3,274.8 826.3,271.8 827.3,269.8 828.6,264.8 829.6,268.8 830.5,274.8 831.7,280.7 833.2,286.7 833.9,274.8 834.5,259.9 835.2,274.8 836.2,281.7 837.2,279.7 838.2,272.8 839.2,262.8 839.9,258.9 840.7,260.9 841.7,266.8 842.7,274.8 843.7,278.8 844.7,284.7 845.9,286.7 847.2,283.7 848.1,284.7 849.1,282.7 850.1,288.7 851.4,289.7 852.6,286.7 853.6,274.8 854.4,274.8 855.1,284.7 855.8,294.7 856.6,299.6 857.6,295.7 858.6,294.7 859.6,302.6 861.1,305.6 862.1,302.6 863.1,298.6 864.1,300.6 865.5,299.6 867.0,300.6 868.5,299.6 870.3,300.6" fill="none" stroke="#ab2f2c" stroke-width="2.5" stroke-linejoin="round" stroke-linecap="round"/>
<line x1="17.95" x2="43.8" y1="392.8" y2="392.8" stroke="#ab2f2c" stroke-width="2.4"/>
<line x1="17.95" x2="43.8" y1="412.1" y2="412.1" stroke="#3a6db5" stroke-width="1.75" stroke-dasharray="6.4 5.4" stroke-dashoffset="4.4"/>
<line x1="17.95" x2="43.8" y1="431.9" y2="431.9" stroke="#eba321" stroke-width="1.75" stroke-dasharray="6.4 5.4" stroke-dashoffset="4.4"/>
<line x1="313.6" x2="335.8" y1="421" y2="421" stroke="#eba321" stroke-width="4.1"/>
<circle cx="324.6" cy="421" r="5.5" fill="#eba321"/>
<circle cx="470.3" cy="421.4" r="4.6" fill="#ab2f2c"/>
<circle cx="470.3" cy="440.6" r="3.85" fill="#4a8a78"/>
<path d="M466.75 456.75L473.85 463.85M466.75 463.85L473.85 456.75" stroke="#000" stroke-width="2.35" fill="none"/>
<line x1="621.0" x2="646.0" y1="423.9" y2="423.9" stroke="#ab2f2c" stroke-width="2.4"/>
<line x1="621.0" x2="646.0" y1="443.1" y2="443.1" stroke="#3a6db5" stroke-width="2.4"/>
<line x1="834.2" x2="859.6" y1="424" y2="424" stroke="#ab2f2c" stroke-width="1.75" stroke-dasharray="6.4 5.4" stroke-dashoffset="4.4"/>
<line x1="834.2" x2="859.6" y1="443.3" y2="443.3" stroke="#3a6db5" stroke-width="1.75" stroke-dasharray="6.4 5.4" stroke-dashoffset="4.4"/>
</svg>
<div id="tx">
<svg width="910" height="754" viewBox="0 0 910 754">
<text x="285.4" y="160.9" font-size="14.55" text-anchor="end" fill="#000" >60</text>
<text x="285.4" y="224.2" font-size="14.55" text-anchor="end" fill="#000" >40</text>
<text x="285.4" y="287.6" font-size="14.55" text-anchor="end" fill="#000" >20</text>
<text x="285.4" y="351.2" font-size="14.55" text-anchor="end" fill="#000" >0</text>
<text x="594.4" y="160.9" font-size="14.55" text-anchor="end" fill="#000" >30</text>
<text x="594.4" y="224.2" font-size="14.55" text-anchor="end" fill="#000" >20</text>
<text x="594.4" y="287.6" font-size="14.55" text-anchor="end" fill="#000" >10</text>
<text x="594.4" y="351.2" font-size="14.55" text-anchor="end" fill="#000" >0</text>
<text x="901.6" y="160.6" font-size="14.55" text-anchor="end" fill="#000" >0.9</text>
<text x="901.6" y="223.6" font-size="14.55" text-anchor="end" fill="#000" >0.6</text>
<text x="901.6" y="286.6" font-size="14.55" text-anchor="end" fill="#000" >0.3</text>
<text x="901.6" y="349.6" font-size="14.55" text-anchor="end" fill="#000" >0.0</text>
<text x="29.4" y="374.1" font-size="14.55" text-anchor="middle" fill="#000" >02</text>
<text x="66.52" y="374.1" font-size="14.55" text-anchor="middle" fill="#000" >04</text>
<text x="103.63999999999999" y="374.1" font-size="14.55" text-anchor="middle" fill="#000" >06</text>
<text x="140.76" y="374.1" font-size="14.55" text-anchor="middle" fill="#000" >08</text>
<text x="177.88" y="374.1" font-size="14.55" text-anchor="middle" fill="#000" >10</text>
<text x="215.0" y="374.1" font-size="14.55" text-anchor="middle" fill="#000" >12</text>
<text x="252.11999999999998" y="374.1" font-size="14.55" text-anchor="middle" fill="#000" >14</text>
<text x="644.1" y="372.3" font-size="14.55" text-anchor="middle" fill="#000" >93</text>
<text x="676.13" y="372.3" font-size="14.55" text-anchor="middle" fill="#000" >96</text>
<text x="708.1600000000001" y="372.3" font-size="14.55" text-anchor="middle" fill="#000" >99</text>
<text x="740.19" y="372.3" font-size="14.55" text-anchor="middle" fill="#000" >02</text>
<text x="772.22" y="372.3" font-size="14.55" text-anchor="middle" fill="#000" >05</text>
<text x="804.25" y="372.3" font-size="14.55" text-anchor="middle" fill="#000" >08</text>
<text x="836.28" y="372.3" font-size="14.55" text-anchor="middle" fill="#000" >11</text>
<text x="868.3100000000001" y="372.3" font-size="14.55" text-anchor="middle" fill="#000" >14</text>
<text x="343.7" y="373.0" font-size="12.6" text-anchor="middle" fill="#000" >Long-term</text>
<text x="343.7" y="386.65" font-size="12.6" text-anchor="middle" fill="#000" >bond</text>
<text x="343.7" y="400.3" font-size="12.6" text-anchor="middle" fill="#000" >futures<tspan font-size="8.4" dy="-6.4" word-spacing="0">5</tspan></text>
<text x="411.0" y="373.0" font-size="12.6" text-anchor="middle" fill="#000" >Equity<tspan font-size="8.4" dy="-6.4" word-spacing="0">1</tspan></text>
<text x="477.6" y="373.0" font-size="12.6" text-anchor="middle" fill="#000" >Exchange</text>
<text x="477.6" y="386.65" font-size="12.6" text-anchor="middle" fill="#000" >rate<tspan font-size="8.4" dy="-6.4" word-spacing="0">6</tspan></text>
<text x="544.6" y="373.0" font-size="12.6" text-anchor="middle" fill="#000" >Commodity</text>
<text x="544.6" y="386.65" font-size="12.6" text-anchor="middle" fill="#000" >futures<tspan font-size="8.4" dy="-6.4" word-spacing="0">7</tspan></text>
<text x="51.0" y="396.9" font-size="14.55" text-anchor="start" fill="#000" >Volatility</text>
<text x="51.0" y="416.2" font-size="14.55" text-anchor="start" fill="#000" >Long-term average<tspan font-size="9.0" dy="-7.8" word-spacing="0">4</tspan></text>
<text x="51.0" y="435.7" font-size="14.55" text-anchor="start" fill="#000" >3 July 2014</text>
<text x="343.4" y="425.4" font-size="13.7" text-anchor="start" fill="#000" >Historical average</text>
<text x="343.4" y="442.0" font-size="13.7" text-anchor="start" fill="#000" >and 10th–90th</text>
<text x="343.4" y="458.4" font-size="13.7" text-anchor="start" fill="#000" >percentile range</text>
<text x="485.5" y="425.4" font-size="13.7" text-anchor="start" fill="#000" >End-June 2007</text>
<text x="485.5" y="444.3" font-size="13.7" text-anchor="start" fill="#000" >3 July 2014</text>
<text x="485.5" y="464.4" font-size="13.7" text-anchor="start" fill="#000" >4 September 2014</text>
<text x="834.6" y="394.4" font-size="14.55" text-anchor="start" fill="#000" >Long-term</text>
<text x="834.6" y="410.6" font-size="14.55" text-anchor="start" fill="#000" >average:<tspan font-size="9.0" dy="-7.8" word-spacing="0">4</tspan></text>
<text x="654.3" y="428.5" font-size="14.55" text-anchor="start" fill="#000" >Advanced economies<tspan font-size="9.0" dy="-7.8" word-spacing="1.6">8, 10</tspan></text>
<text x="654.3" y="447.9" font-size="14.55" text-anchor="start" fill="#000" >Emerging markets<tspan font-size="9.0" dy="-7.8" word-spacing="1.6">9, 10</tspan></text>
</svg>
<div class="t" style="left:2.2px;top:11.07px;font-size:22.6px;line-height:29px;letter-spacing:1.1px;color:#000;-webkit-text-stroke:0.3px #000;">Low volatility everywhere</div>
<div class="t" style="right:0.7px;top:14.89px;font-size:18.5px;line-height:24px;letter-spacing:0.6px;color:#000;">Graph 6</div>
<div class="t" style="left:1.4px;top:57.79px;font-size:18.5px;line-height:24px;letter-spacing:0.93px;color:#000;">International equity markets<span style="font-size:13.4px;position:relative;top:-8.6px;letter-spacing:0;margin-left:0.3px">1</span></div>
<div class="t" style="left:309.9px;top:57.79px;font-size:18.5px;line-height:24px;letter-spacing:0.63px;color:#000;">Volatility across asset classes<span style="font-size:13.4px;position:relative;top:-8.6px;letter-spacing:0;margin-left:-1.2px">2</span></div>
<div class="t" style="left:617.7px;top:57.79px;font-size:18.5px;line-height:24px;letter-spacing:0.83px;color:#000;">Macroeconomic uncertainty<span style="font-size:13.4px;position:relative;top:-8.6px;letter-spacing:0;margin-left:-0.4px">3</span></div>
<div class="t" style="right:620.5px;top:82.06px;font-size:15.4px;line-height:20px;letter-spacing:0.5px;color:#7a7a7a;">Percentage points</div>
<div class="t" style="right:312.40000000000003px;top:82.06px;font-size:15.4px;line-height:20px;letter-spacing:0.5px;color:#7a7a7a;">Percentage points</div>
<div class="t" style="right:4.500000000000045px;top:82.06px;font-size:15.4px;line-height:20px;letter-spacing:0.5px;color:#7a7a7a;">Percentage points</div>
<div class="f" style="top:482.70px;letter-spacing:0.37px;text-align:justify;text-align-last:justify;"><span class="fs">1</span><span class="g9"></span>Implied volatility of S&amp;P 500, EURO STOXX 50, FTSE 100 and Nikkei 225 equity indices; weighted average based on</div>
<div class="f" style="top:499.70px;letter-spacing:0.37px;text-align:justify;text-align-last:justify;">market capitalisation of the respective indices. <span class="g4"></span><span class="fs">2</span><span class="g9"></span>Data start in 2001. <span class="g4"></span><span class="fs">3</span><span class="g9"></span>Cross-sectional standard deviation of</div>
<div class="f" style="top:516.70px;letter-spacing:0.37px;text-align:justify;text-align-last:justify;">Consensus Economics respondents’ forecasts of full-year real GDP growth, computed on a monthly basis. The series are</div>
<div class="f" style="top:533.70px;letter-spacing:0.37px;text-align:justify;text-align-last:justify;">weighted averages of current and next-year forecasts, with weights shifting as the year progresses to proxy a 12-month-</div>
<div class="f" style="top:550.70px;letter-spacing:0.37px;text-align:justify;text-align-last:justify;">ahead forecast. See P Gerlach, P Hördahl and R Moessner, “Inflation expectations and the great recession”, <i>BIS Quarterly</i></div>
<div class="f" style="top:567.70px;letter-spacing:0.37px;text-align:justify;text-align-last:justify;"><i>Review</i>, March 2011, pp 39–51) for details. <span class="g4"></span><span class="fs">4</span><span class="g9"></span>Simple average for the period shown. <span class="g4"></span><span class="fs">5</span><span class="g9"></span>Weighted average, based on</div>
<div class="f" style="top:585.70px;letter-spacing:0.37px;text-align:justify;text-align-last:justify;">2005 GDP and PPP exchange rates, of the implied volatility of at-the-money options on long-term bond futures of</div>
<div class="f" style="top:602.70px;letter-spacing:0.37px;text-align:justify;text-align-last:justify;">Germany, Japan, the United Kingdom and the United States. <span class="g4"></span><span class="fs">6</span><span class="g9"></span>JPMorgan VXY Global index, a turnover-weighted index of</div>
<div class="f" style="top:619.70px;letter-spacing:0.37px;text-align:justify;text-align-last:justify;">implied volatility of three-month at-the-money options on 23 USD currency pairs. <span class="g4"></span><span class="fs">7</span><span class="g9"></span>Simple average of the implied</div>
<div class="f" style="top:636.70px;letter-spacing:0.37px;text-align:justify;text-align-last:justify;">volatility of at-the-money options on commodity futures contracts on oil, gold and copper. <span class="g4"></span><span class="fs">8</span><span class="g9"></span>Germany, Japan, the United</div>
<div class="f" style="top:653.70px;letter-spacing:0.37px;text-align:justify;text-align-last:justify;">Kingdom and the United States. <span class="g4"></span><span class="fs">9</span><span class="g9"></span>Brazil, China, Korea, Mexico and Turkey. <span class="g4"></span><span class="fs">10</span><span class="g9"></span>Weighted average of the economies</div>
<div class="f" style="top:670.70px;letter-spacing:0.37px;">listed, based on 2005 GDP and PPP exchange rates.</div>
<div class="f" style="top:699.70px;letter-spacing:0.38px">Sources: Bloomberg; Consensus Economics; BIS calculations.</div>
<div class="t" style="right:0.5px;top:728.97px;font-size:12.2px;line-height:16px;letter-spacing:-0.12px;color:#111;">© Bank for International Settlements</div>
</div>
</div></body></html>
